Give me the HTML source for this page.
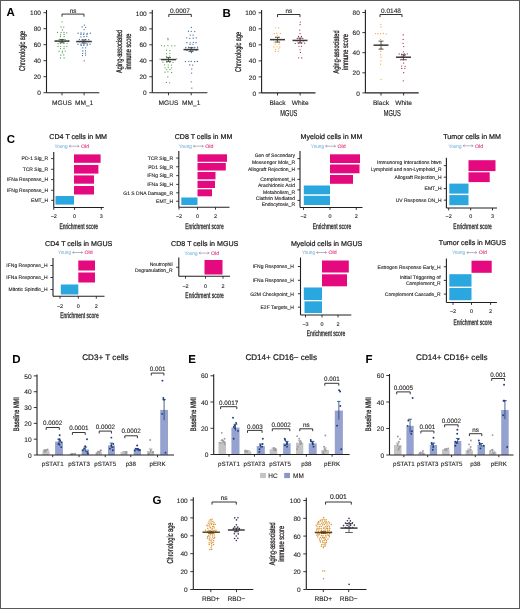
<!DOCTYPE html><html><head><meta charset="utf-8"><style>html,body{margin:0;padding:0;background:#fff;}svg{display:block;will-change:transform;}text{font-family:"Liberation Sans",sans-serif;text-rendering:geometricPrecision;}</style></head><body>
<svg width="520" height="609" viewBox="0 0 520 609">
<rect x="0" y="0" width="520" height="609" fill="#fff"/>
<text x="6.6" y="16.32" font-size="11.5" text-anchor="start" fill="#000" font-weight="bold">A</text>
<line x1="46.5" y1="9.9" x2="46.5" y2="92.7" stroke="#231f20" stroke-width="1.1"/>
<line x1="43.5" y1="92.7" x2="46.5" y2="92.7" stroke="#231f20" stroke-width="0.9"/>
<text x="40.9" y="95.33" font-size="6.5" text-anchor="end" fill="#231f20" stroke="#231f20" stroke-width="0.12">0</text>
<line x1="43.5" y1="76.7" x2="46.5" y2="76.7" stroke="#231f20" stroke-width="0.9"/>
<text x="40.9" y="79.33" font-size="6.5" text-anchor="end" fill="#231f20" stroke="#231f20" stroke-width="0.12">20</text>
<line x1="43.5" y1="60.7" x2="46.5" y2="60.7" stroke="#231f20" stroke-width="0.9"/>
<text x="40.9" y="63.33" font-size="6.5" text-anchor="end" fill="#231f20" stroke="#231f20" stroke-width="0.12">40</text>
<line x1="43.5" y1="44.7" x2="46.5" y2="44.7" stroke="#231f20" stroke-width="0.9"/>
<text x="40.9" y="47.33" font-size="6.5" text-anchor="end" fill="#231f20" stroke="#231f20" stroke-width="0.12">60</text>
<line x1="43.5" y1="28.7" x2="46.5" y2="28.7" stroke="#231f20" stroke-width="0.9"/>
<text x="40.9" y="31.33" font-size="6.5" text-anchor="end" fill="#231f20" stroke="#231f20" stroke-width="0.12">80</text>
<line x1="43.5" y1="12.7" x2="46.5" y2="12.7" stroke="#231f20" stroke-width="0.9"/>
<text x="40.9" y="15.33" font-size="6.5" text-anchor="end" fill="#231f20" stroke="#231f20" stroke-width="0.12">100</text>
<line x1="46.5" y1="92.7" x2="99.3" y2="92.7" stroke="#231f20" stroke-width="1.1"/>
<line x1="62" y1="92.7" x2="62" y2="95.3" stroke="#231f20" stroke-width="0.9"/>
<line x1="84.1" y1="92.7" x2="84.1" y2="95.3" stroke="#231f20" stroke-width="0.9"/>
<text x="62" y="104.66" font-size="6.6" text-anchor="middle" fill="#231f20" stroke="#231f20" stroke-width="0.12">MGUS</text>
<text x="84.1" y="104.66" font-size="6.6" text-anchor="middle" fill="#231f20" stroke="#231f20" stroke-width="0.12">MM_1</text>
<text x="22.3" y="54.01" font-size="8.4" text-anchor="middle" fill="#231f20" textLength="40" lengthAdjust="spacingAndGlyphs" stroke="#231f20" stroke-width="0.28" transform="rotate(-90 22.3 51)">Chronologic age</text>
<path d="M62 16.7V14.1H84V16.7" fill="none" stroke="#231f20" stroke-width="0.9"/>
<text x="73" y="12.56" font-size="6.3" text-anchor="middle" fill="#231f20" stroke="#231f20" stroke-width="0.12">ns</text>
<circle cx="62.04" cy="21.79" r="0.62" fill="#4f9e47"/>
<circle cx="60.98" cy="26.95" r="0.62" fill="#4f9e47"/>
<circle cx="63.8" cy="27.07" r="0.62" fill="#4f9e47"/>
<circle cx="62.41" cy="29.99" r="0.62" fill="#4f9e47"/>
<circle cx="57.52" cy="32.42" r="0.62" fill="#4f9e47"/>
<circle cx="61.04" cy="32.66" r="0.62" fill="#4f9e47"/>
<circle cx="63.98" cy="32.4" r="0.62" fill="#4f9e47"/>
<circle cx="66.76" cy="32.83" r="0.62" fill="#4f9e47"/>
<circle cx="60.61" cy="34.97" r="0.62" fill="#4f9e47"/>
<circle cx="64.08" cy="34.42" r="0.62" fill="#4f9e47"/>
<circle cx="60.47" cy="36.72" r="0.62" fill="#4f9e47"/>
<circle cx="64.11" cy="36.63" r="0.62" fill="#4f9e47"/>
<circle cx="59.1" cy="39.45" r="0.62" fill="#4f9e47"/>
<circle cx="61.97" cy="39.33" r="0.62" fill="#4f9e47"/>
<circle cx="65.26" cy="39.5" r="0.62" fill="#4f9e47"/>
<circle cx="56.11" cy="40.94" r="0.62" fill="#4f9e47"/>
<circle cx="59.1" cy="41.08" r="0.62" fill="#4f9e47"/>
<circle cx="62.15" cy="40.81" r="0.62" fill="#4f9e47"/>
<circle cx="65.54" cy="41.13" r="0.62" fill="#4f9e47"/>
<circle cx="68.4" cy="40.91" r="0.62" fill="#4f9e47"/>
<circle cx="58.14" cy="43.64" r="0.62" fill="#4f9e47"/>
<circle cx="60.53" cy="43.32" r="0.62" fill="#4f9e47"/>
<circle cx="63.96" cy="43.55" r="0.62" fill="#4f9e47"/>
<circle cx="67.11" cy="43.37" r="0.62" fill="#4f9e47"/>
<circle cx="58.03" cy="46.4" r="0.62" fill="#4f9e47"/>
<circle cx="60.66" cy="46.35" r="0.62" fill="#4f9e47"/>
<circle cx="64.07" cy="46.51" r="0.62" fill="#4f9e47"/>
<circle cx="66.8" cy="46.35" r="0.62" fill="#4f9e47"/>
<circle cx="60.47" cy="48.55" r="0.62" fill="#4f9e47"/>
<circle cx="64.01" cy="48.65" r="0.62" fill="#4f9e47"/>
<circle cx="59.07" cy="51.13" r="0.62" fill="#4f9e47"/>
<circle cx="62.44" cy="51.2" r="0.62" fill="#4f9e47"/>
<circle cx="65.21" cy="51.06" r="0.62" fill="#4f9e47"/>
<circle cx="62.31" cy="52.87" r="0.62" fill="#4f9e47"/>
<circle cx="60.81" cy="55.2" r="0.62" fill="#4f9e47"/>
<circle cx="63.79" cy="54.98" r="0.62" fill="#4f9e47"/>
<circle cx="60.48" cy="57.94" r="0.62" fill="#4f9e47"/>
<circle cx="64.14" cy="57.88" r="0.62" fill="#4f9e47"/>
<circle cx="84.32" cy="25.05" r="0.62" fill="#2b5a93"/>
<circle cx="82.19" cy="26.93" r="0.62" fill="#2b5a93"/>
<circle cx="85.73" cy="27.32" r="0.62" fill="#2b5a93"/>
<circle cx="84.12" cy="29.54" r="0.62" fill="#2b5a93"/>
<circle cx="78.07" cy="33.16" r="0.62" fill="#2b5a93"/>
<circle cx="81.06" cy="32.9" r="0.62" fill="#2b5a93"/>
<circle cx="83.95" cy="33.04" r="0.62" fill="#2b5a93"/>
<circle cx="87.16" cy="33.4" r="0.62" fill="#2b5a93"/>
<circle cx="90.31" cy="33.13" r="0.62" fill="#2b5a93"/>
<circle cx="80.96" cy="34.48" r="0.62" fill="#2b5a93"/>
<circle cx="83.68" cy="34.34" r="0.62" fill="#2b5a93"/>
<circle cx="86.98" cy="34.51" r="0.62" fill="#2b5a93"/>
<circle cx="80.92" cy="36.86" r="0.62" fill="#2b5a93"/>
<circle cx="84.02" cy="36.66" r="0.62" fill="#2b5a93"/>
<circle cx="86.82" cy="36.33" r="0.62" fill="#2b5a93"/>
<circle cx="79.38" cy="39.28" r="0.62" fill="#2b5a93"/>
<circle cx="82.51" cy="39.8" r="0.62" fill="#2b5a93"/>
<circle cx="85.62" cy="39.31" r="0.62" fill="#2b5a93"/>
<circle cx="88.78" cy="39.68" r="0.62" fill="#2b5a93"/>
<circle cx="76.66" cy="41.74" r="0.62" fill="#2b5a93"/>
<circle cx="79.68" cy="41.67" r="0.62" fill="#2b5a93"/>
<circle cx="82.4" cy="41.79" r="0.62" fill="#2b5a93"/>
<circle cx="85.82" cy="41.3" r="0.62" fill="#2b5a93"/>
<circle cx="88.68" cy="41.63" r="0.62" fill="#2b5a93"/>
<circle cx="91.47" cy="41.52" r="0.62" fill="#2b5a93"/>
<circle cx="77.99" cy="44.23" r="0.62" fill="#2b5a93"/>
<circle cx="81" cy="44.18" r="0.62" fill="#2b5a93"/>
<circle cx="83.9" cy="44.21" r="0.62" fill="#2b5a93"/>
<circle cx="87.28" cy="43.96" r="0.62" fill="#2b5a93"/>
<circle cx="90.05" cy="44.23" r="0.62" fill="#2b5a93"/>
<circle cx="81.16" cy="45.41" r="0.62" fill="#2b5a93"/>
<circle cx="83.81" cy="45.31" r="0.62" fill="#2b5a93"/>
<circle cx="87.14" cy="45.22" r="0.62" fill="#2b5a93"/>
<circle cx="82.79" cy="47.76" r="0.62" fill="#2b5a93"/>
<circle cx="85.79" cy="47.79" r="0.62" fill="#2b5a93"/>
<circle cx="82.82" cy="50.9" r="0.62" fill="#2b5a93"/>
<circle cx="85.5" cy="50.79" r="0.62" fill="#2b5a93"/>
<circle cx="82.61" cy="53.31" r="0.62" fill="#2b5a93"/>
<circle cx="85.37" cy="53.08" r="0.62" fill="#2b5a93"/>
<circle cx="82.51" cy="55.52" r="0.62" fill="#2b5a93"/>
<circle cx="85.59" cy="55.01" r="0.62" fill="#2b5a93"/>
<circle cx="84.22" cy="60.84" r="0.62" fill="#2b5a93"/>
<line x1="54.5" y1="41.1" x2="69.5" y2="41.1" stroke="#3a3a3a" stroke-width="1.5"/>
<line x1="62" y1="42.7" x2="62" y2="39.5" stroke="#3a3a3a" stroke-width="0.8"/>
<line x1="59.5" y1="42.7" x2="64.5" y2="42.7" stroke="#3a3a3a" stroke-width="0.8"/>
<line x1="59.5" y1="39.5" x2="64.5" y2="39.5" stroke="#3a3a3a" stroke-width="0.8"/>
<line x1="76.5" y1="41.5" x2="91.5" y2="41.5" stroke="#3a3a3a" stroke-width="1.5"/>
<line x1="84" y1="43.1" x2="84" y2="39.9" stroke="#3a3a3a" stroke-width="0.8"/>
<line x1="81.5" y1="43.1" x2="86.5" y2="43.1" stroke="#3a3a3a" stroke-width="0.8"/>
<line x1="81.5" y1="39.9" x2="86.5" y2="39.9" stroke="#3a3a3a" stroke-width="0.8"/>
<line x1="152.3" y1="10.1" x2="152.3" y2="92.7" stroke="#231f20" stroke-width="1.1"/>
<line x1="149.3" y1="92.7" x2="152.3" y2="92.7" stroke="#231f20" stroke-width="0.9"/>
<text x="146.7" y="95.33" font-size="6.5" text-anchor="end" fill="#231f20" stroke="#231f20" stroke-width="0.12">0</text>
<line x1="149.3" y1="76.74" x2="152.3" y2="76.74" stroke="#231f20" stroke-width="0.9"/>
<text x="146.7" y="79.37" font-size="6.5" text-anchor="end" fill="#231f20" stroke="#231f20" stroke-width="0.12">20</text>
<line x1="149.3" y1="60.78" x2="152.3" y2="60.78" stroke="#231f20" stroke-width="0.9"/>
<text x="146.7" y="63.41" font-size="6.5" text-anchor="end" fill="#231f20" stroke="#231f20" stroke-width="0.12">40</text>
<line x1="149.3" y1="44.82" x2="152.3" y2="44.82" stroke="#231f20" stroke-width="0.9"/>
<text x="146.7" y="47.45" font-size="6.5" text-anchor="end" fill="#231f20" stroke="#231f20" stroke-width="0.12">60</text>
<line x1="149.3" y1="28.86" x2="152.3" y2="28.86" stroke="#231f20" stroke-width="0.9"/>
<text x="146.7" y="31.49" font-size="6.5" text-anchor="end" fill="#231f20" stroke="#231f20" stroke-width="0.12">80</text>
<line x1="149.3" y1="12.9" x2="152.3" y2="12.9" stroke="#231f20" stroke-width="0.9"/>
<text x="146.7" y="15.53" font-size="6.5" text-anchor="end" fill="#231f20" stroke="#231f20" stroke-width="0.12">100</text>
<line x1="152.3" y1="92.7" x2="207.4" y2="92.7" stroke="#231f20" stroke-width="1.1"/>
<line x1="168.5" y1="92.7" x2="168.5" y2="95.3" stroke="#231f20" stroke-width="0.9"/>
<line x1="191.2" y1="92.7" x2="191.2" y2="95.3" stroke="#231f20" stroke-width="0.9"/>
<text x="168.5" y="104.66" font-size="6.6" text-anchor="middle" fill="#231f20" stroke="#231f20" stroke-width="0.12">MGUS</text>
<text x="191.2" y="104.66" font-size="6.6" text-anchor="middle" fill="#231f20" stroke="#231f20" stroke-width="0.12">MM_1</text>
<text x="118.6" y="54.44" font-size="8.2" text-anchor="middle" fill="#231f20" textLength="43" lengthAdjust="spacingAndGlyphs" stroke="#231f20" stroke-width="0.28" transform="rotate(-90 118.6 51.5)">Aging-associated</text>
<text x="127.6" y="54.44" font-size="8.2" text-anchor="middle" fill="#231f20" textLength="36" lengthAdjust="spacingAndGlyphs" stroke="#231f20" stroke-width="0.28" transform="rotate(-90 127.6 51.5)">immune score</text>
<path d="M168.8 17V14.4H191.3V17" fill="none" stroke="#231f20" stroke-width="0.9"/>
<text x="180.05" y="12.53" font-size="6.5" text-anchor="middle" fill="#231f20" stroke="#231f20" stroke-width="0.12">0.0007</text>
<circle cx="167.92" cy="38.46" r="0.62" fill="#4f9e47"/>
<circle cx="168.01" cy="39.7" r="0.62" fill="#4f9e47"/>
<circle cx="161.59" cy="45.52" r="0.62" fill="#4f9e47"/>
<circle cx="164.46" cy="45.98" r="0.62" fill="#4f9e47"/>
<circle cx="167.93" cy="45.62" r="0.62" fill="#4f9e47"/>
<circle cx="171.75" cy="45.76" r="0.62" fill="#4f9e47"/>
<circle cx="174.94" cy="45.76" r="0.62" fill="#4f9e47"/>
<circle cx="166.55" cy="50.2" r="0.62" fill="#4f9e47"/>
<circle cx="169.84" cy="50.63" r="0.62" fill="#4f9e47"/>
<circle cx="166.47" cy="53.74" r="0.62" fill="#4f9e47"/>
<circle cx="169.87" cy="53.34" r="0.62" fill="#4f9e47"/>
<circle cx="166.63" cy="56.37" r="0.62" fill="#4f9e47"/>
<circle cx="169.61" cy="56.03" r="0.62" fill="#4f9e47"/>
<circle cx="160.11" cy="59.17" r="0.62" fill="#4f9e47"/>
<circle cx="163.3" cy="59.41" r="0.62" fill="#4f9e47"/>
<circle cx="166.6" cy="59.44" r="0.62" fill="#4f9e47"/>
<circle cx="169.68" cy="59.36" r="0.62" fill="#4f9e47"/>
<circle cx="173.01" cy="59.45" r="0.62" fill="#4f9e47"/>
<circle cx="176.62" cy="58.94" r="0.62" fill="#4f9e47"/>
<circle cx="162.9" cy="62.21" r="0.62" fill="#4f9e47"/>
<circle cx="166.78" cy="62.34" r="0.62" fill="#4f9e47"/>
<circle cx="169.84" cy="62.26" r="0.62" fill="#4f9e47"/>
<circle cx="173.06" cy="62.31" r="0.62" fill="#4f9e47"/>
<circle cx="164.7" cy="64.82" r="0.62" fill="#4f9e47"/>
<circle cx="168.16" cy="65.01" r="0.62" fill="#4f9e47"/>
<circle cx="171.53" cy="65.03" r="0.62" fill="#4f9e47"/>
<circle cx="165.05" cy="67.78" r="0.62" fill="#4f9e47"/>
<circle cx="168.22" cy="67.28" r="0.62" fill="#4f9e47"/>
<circle cx="171.65" cy="67.76" r="0.62" fill="#4f9e47"/>
<circle cx="166.73" cy="69.6" r="0.62" fill="#4f9e47"/>
<circle cx="169.9" cy="69.38" r="0.62" fill="#4f9e47"/>
<circle cx="165.03" cy="72.16" r="0.62" fill="#4f9e47"/>
<circle cx="167.95" cy="71.85" r="0.62" fill="#4f9e47"/>
<circle cx="171.65" cy="72.41" r="0.62" fill="#4f9e47"/>
<circle cx="167.81" cy="76.92" r="0.62" fill="#4f9e47"/>
<circle cx="166.39" cy="82.44" r="0.62" fill="#4f9e47"/>
<circle cx="169.61" cy="82.81" r="0.62" fill="#4f9e47"/>
<circle cx="191.32" cy="27.27" r="0.62" fill="#2b5a93"/>
<circle cx="188.43" cy="31.21" r="0.62" fill="#2b5a93"/>
<circle cx="191.2" cy="31.35" r="0.62" fill="#2b5a93"/>
<circle cx="194.79" cy="31.59" r="0.62" fill="#2b5a93"/>
<circle cx="190.19" cy="35.08" r="0.62" fill="#2b5a93"/>
<circle cx="193.03" cy="35.11" r="0.62" fill="#2b5a93"/>
<circle cx="186.77" cy="37.8" r="0.62" fill="#2b5a93"/>
<circle cx="189.8" cy="38.29" r="0.62" fill="#2b5a93"/>
<circle cx="193.23" cy="38.22" r="0.62" fill="#2b5a93"/>
<circle cx="196.21" cy="37.85" r="0.62" fill="#2b5a93"/>
<circle cx="186.87" cy="42.66" r="0.62" fill="#2b5a93"/>
<circle cx="190.16" cy="42.8" r="0.62" fill="#2b5a93"/>
<circle cx="193.27" cy="42.34" r="0.62" fill="#2b5a93"/>
<circle cx="196.07" cy="42.69" r="0.62" fill="#2b5a93"/>
<circle cx="190" cy="44.31" r="0.62" fill="#2b5a93"/>
<circle cx="192.98" cy="44.25" r="0.62" fill="#2b5a93"/>
<circle cx="185.8" cy="47.43" r="0.62" fill="#2b5a93"/>
<circle cx="188.53" cy="47.09" r="0.62" fill="#2b5a93"/>
<circle cx="191.79" cy="47.26" r="0.62" fill="#2b5a93"/>
<circle cx="194.77" cy="47.42" r="0.62" fill="#2b5a93"/>
<circle cx="197.51" cy="47.16" r="0.62" fill="#2b5a93"/>
<circle cx="185.57" cy="49.09" r="0.62" fill="#2b5a93"/>
<circle cx="188.26" cy="49.01" r="0.62" fill="#2b5a93"/>
<circle cx="191.72" cy="48.86" r="0.62" fill="#2b5a93"/>
<circle cx="194.18" cy="49.21" r="0.62" fill="#2b5a93"/>
<circle cx="197.35" cy="49.15" r="0.62" fill="#2b5a93"/>
<circle cx="186.98" cy="50.31" r="0.62" fill="#2b5a93"/>
<circle cx="190.35" cy="50.22" r="0.62" fill="#2b5a93"/>
<circle cx="192.94" cy="50.23" r="0.62" fill="#2b5a93"/>
<circle cx="196.09" cy="50.27" r="0.62" fill="#2b5a93"/>
<circle cx="191.4" cy="52.55" r="0.62" fill="#2b5a93"/>
<circle cx="185.37" cy="61.61" r="0.62" fill="#2b5a93"/>
<circle cx="188.78" cy="61.34" r="0.62" fill="#2b5a93"/>
<circle cx="191.19" cy="61.42" r="0.62" fill="#2b5a93"/>
<circle cx="194.69" cy="61.65" r="0.62" fill="#2b5a93"/>
<circle cx="197.32" cy="61.48" r="0.62" fill="#2b5a93"/>
<circle cx="189.77" cy="64.91" r="0.62" fill="#2b5a93"/>
<circle cx="192.68" cy="65.05" r="0.62" fill="#2b5a93"/>
<circle cx="191.78" cy="69.03" r="0.62" fill="#2b5a93"/>
<circle cx="191.66" cy="73.03" r="0.62" fill="#2b5a93"/>
<circle cx="191.16" cy="81.8" r="0.62" fill="#2b5a93"/>
<circle cx="191.83" cy="88.08" r="0.62" fill="#2b5a93"/>
<line x1="161" y1="59.58" x2="176" y2="59.58" stroke="#3a3a3a" stroke-width="1.5"/>
<line x1="168.5" y1="61.58" x2="168.5" y2="57.59" stroke="#3a3a3a" stroke-width="0.8"/>
<line x1="166" y1="61.58" x2="171" y2="61.58" stroke="#3a3a3a" stroke-width="0.8"/>
<line x1="166" y1="57.59" x2="171" y2="57.59" stroke="#3a3a3a" stroke-width="0.8"/>
<line x1="183.5" y1="49.61" x2="198.5" y2="49.61" stroke="#3a3a3a" stroke-width="1.5"/>
<line x1="191" y1="51.6" x2="191" y2="47.61" stroke="#3a3a3a" stroke-width="0.8"/>
<line x1="188.5" y1="51.6" x2="193.5" y2="51.6" stroke="#3a3a3a" stroke-width="0.8"/>
<line x1="188.5" y1="47.61" x2="193.5" y2="47.61" stroke="#3a3a3a" stroke-width="0.8"/>
<text x="222.6" y="17.42" font-size="11.5" text-anchor="start" fill="#000" font-weight="bold">B</text>
<line x1="261.6" y1="10" x2="261.6" y2="92.9" stroke="#231f20" stroke-width="1.1"/>
<line x1="258.6" y1="92.9" x2="261.6" y2="92.9" stroke="#231f20" stroke-width="0.9"/>
<text x="256" y="95.53" font-size="6.5" text-anchor="end" fill="#231f20" stroke="#231f20" stroke-width="0.12">0</text>
<line x1="258.6" y1="76.88" x2="261.6" y2="76.88" stroke="#231f20" stroke-width="0.9"/>
<text x="256" y="79.51" font-size="6.5" text-anchor="end" fill="#231f20" stroke="#231f20" stroke-width="0.12">20</text>
<line x1="258.6" y1="60.86" x2="261.6" y2="60.86" stroke="#231f20" stroke-width="0.9"/>
<text x="256" y="63.49" font-size="6.5" text-anchor="end" fill="#231f20" stroke="#231f20" stroke-width="0.12">40</text>
<line x1="258.6" y1="44.84" x2="261.6" y2="44.84" stroke="#231f20" stroke-width="0.9"/>
<text x="256" y="47.47" font-size="6.5" text-anchor="end" fill="#231f20" stroke="#231f20" stroke-width="0.12">60</text>
<line x1="258.6" y1="28.82" x2="261.6" y2="28.82" stroke="#231f20" stroke-width="0.9"/>
<text x="256" y="31.45" font-size="6.5" text-anchor="end" fill="#231f20" stroke="#231f20" stroke-width="0.12">80</text>
<line x1="258.6" y1="12.8" x2="261.6" y2="12.8" stroke="#231f20" stroke-width="0.9"/>
<text x="256" y="15.43" font-size="6.5" text-anchor="end" fill="#231f20" stroke="#231f20" stroke-width="0.12">100</text>
<line x1="261.6" y1="92.9" x2="315.5" y2="92.9" stroke="#231f20" stroke-width="1.1"/>
<line x1="277.5" y1="92.9" x2="277.5" y2="95.5" stroke="#231f20" stroke-width="0.9"/>
<line x1="300.2" y1="92.9" x2="300.2" y2="95.5" stroke="#231f20" stroke-width="0.9"/>
<text x="277.5" y="104.86" font-size="6.6" text-anchor="middle" fill="#231f20" stroke="#231f20" stroke-width="0.12">Black</text>
<text x="300.2" y="104.86" font-size="6.6" text-anchor="middle" fill="#231f20" stroke="#231f20" stroke-width="0.12">White</text>
<text x="237.6" y="55.01" font-size="8.4" text-anchor="middle" fill="#231f20" textLength="40" lengthAdjust="spacingAndGlyphs" stroke="#231f20" stroke-width="0.28" transform="rotate(-90 237.6 52)">Chronologic age</text>
<path d="M277.5 17.1V14.5H300V17.1" fill="none" stroke="#231f20" stroke-width="0.9"/>
<text x="288.75" y="12.76" font-size="6.3" text-anchor="middle" fill="#231f20" stroke="#231f20" stroke-width="0.12">ns</text>
<text x="288.8" y="116.38" font-size="8.6" text-anchor="middle" fill="#231f20" textLength="17" lengthAdjust="spacingAndGlyphs" stroke="#231f20" stroke-width="0.2">MGUS</text>
<circle cx="275.59" cy="27.76" r="0.62" fill="#eea246"/>
<circle cx="278.71" cy="27.88" r="0.62" fill="#eea246"/>
<circle cx="274.17" cy="33.64" r="0.62" fill="#eea246"/>
<circle cx="276.67" cy="33.37" r="0.62" fill="#eea246"/>
<circle cx="280.31" cy="33.48" r="0.62" fill="#eea246"/>
<circle cx="277.28" cy="35" r="0.62" fill="#eea246"/>
<circle cx="275.48" cy="37.48" r="0.62" fill="#eea246"/>
<circle cx="278.53" cy="37.68" r="0.62" fill="#eea246"/>
<circle cx="273.66" cy="39.86" r="0.62" fill="#eea246"/>
<circle cx="276.85" cy="40.28" r="0.62" fill="#eea246"/>
<circle cx="280.19" cy="39.83" r="0.62" fill="#eea246"/>
<circle cx="274.21" cy="42.22" r="0.62" fill="#eea246"/>
<circle cx="277.08" cy="42.21" r="0.62" fill="#eea246"/>
<circle cx="279.65" cy="42.66" r="0.62" fill="#eea246"/>
<circle cx="275.3" cy="44.11" r="0.62" fill="#eea246"/>
<circle cx="278.84" cy="44.5" r="0.62" fill="#eea246"/>
<circle cx="273.85" cy="46.96" r="0.62" fill="#eea246"/>
<circle cx="277.03" cy="46.79" r="0.62" fill="#eea246"/>
<circle cx="279.79" cy="46.95" r="0.62" fill="#eea246"/>
<circle cx="275.63" cy="49.37" r="0.62" fill="#eea246"/>
<circle cx="278.78" cy="48.96" r="0.62" fill="#eea246"/>
<circle cx="275.4" cy="51.45" r="0.62" fill="#eea246"/>
<circle cx="278.25" cy="51.39" r="0.62" fill="#eea246"/>
<circle cx="300.31" cy="22.12" r="0.62" fill="#a61c42"/>
<circle cx="300.09" cy="24.67" r="0.62" fill="#a61c42"/>
<circle cx="299.75" cy="30.12" r="0.62" fill="#a61c42"/>
<circle cx="300.08" cy="33.54" r="0.62" fill="#a61c42"/>
<circle cx="298.51" cy="36.43" r="0.62" fill="#a61c42"/>
<circle cx="301.44" cy="36.45" r="0.62" fill="#a61c42"/>
<circle cx="297.26" cy="38.54" r="0.62" fill="#a61c42"/>
<circle cx="300.13" cy="38.7" r="0.62" fill="#a61c42"/>
<circle cx="302.89" cy="38.62" r="0.62" fill="#a61c42"/>
<circle cx="297.31" cy="40.85" r="0.62" fill="#a61c42"/>
<circle cx="300.31" cy="41.11" r="0.62" fill="#a61c42"/>
<circle cx="303.34" cy="40.9" r="0.62" fill="#a61c42"/>
<circle cx="295.32" cy="43.5" r="0.62" fill="#a61c42"/>
<circle cx="298.81" cy="43.29" r="0.62" fill="#a61c42"/>
<circle cx="301.32" cy="43.14" r="0.62" fill="#a61c42"/>
<circle cx="304.69" cy="43.19" r="0.62" fill="#a61c42"/>
<circle cx="298.92" cy="46.25" r="0.62" fill="#a61c42"/>
<circle cx="301.39" cy="46.29" r="0.62" fill="#a61c42"/>
<circle cx="300" cy="49.75" r="0.62" fill="#a61c42"/>
<circle cx="300.39" cy="52.38" r="0.62" fill="#a61c42"/>
<circle cx="298.7" cy="57.77" r="0.62" fill="#a61c42"/>
<circle cx="301.81" cy="57.94" r="0.62" fill="#a61c42"/>
<line x1="270" y1="39.63" x2="285" y2="39.63" stroke="#3a3a3a" stroke-width="1.5"/>
<line x1="277.5" y1="42.04" x2="277.5" y2="37.23" stroke="#3a3a3a" stroke-width="0.8"/>
<line x1="275" y1="42.04" x2="280" y2="42.04" stroke="#3a3a3a" stroke-width="0.8"/>
<line x1="275" y1="37.23" x2="280" y2="37.23" stroke="#3a3a3a" stroke-width="0.8"/>
<line x1="292.5" y1="40.43" x2="307.5" y2="40.43" stroke="#3a3a3a" stroke-width="1.5"/>
<line x1="300" y1="42.84" x2="300" y2="38.03" stroke="#3a3a3a" stroke-width="0.8"/>
<line x1="297.5" y1="42.84" x2="302.5" y2="42.84" stroke="#3a3a3a" stroke-width="0.8"/>
<line x1="297.5" y1="38.03" x2="302.5" y2="38.03" stroke="#3a3a3a" stroke-width="0.8"/>
<line x1="365.4" y1="9.7" x2="365.4" y2="92.9" stroke="#231f20" stroke-width="1.1"/>
<line x1="362.4" y1="92.9" x2="365.4" y2="92.9" stroke="#231f20" stroke-width="0.9"/>
<text x="359.8" y="95.53" font-size="6.5" text-anchor="end" fill="#231f20" stroke="#231f20" stroke-width="0.12">0</text>
<line x1="362.4" y1="72.8" x2="365.4" y2="72.8" stroke="#231f20" stroke-width="0.9"/>
<text x="359.8" y="75.43" font-size="6.5" text-anchor="end" fill="#231f20" stroke="#231f20" stroke-width="0.12">20</text>
<line x1="362.4" y1="52.7" x2="365.4" y2="52.7" stroke="#231f20" stroke-width="0.9"/>
<text x="359.8" y="55.33" font-size="6.5" text-anchor="end" fill="#231f20" stroke="#231f20" stroke-width="0.12">40</text>
<line x1="362.4" y1="32.6" x2="365.4" y2="32.6" stroke="#231f20" stroke-width="0.9"/>
<text x="359.8" y="35.23" font-size="6.5" text-anchor="end" fill="#231f20" stroke="#231f20" stroke-width="0.12">60</text>
<line x1="362.4" y1="12.5" x2="365.4" y2="12.5" stroke="#231f20" stroke-width="0.9"/>
<text x="359.8" y="15.13" font-size="6.5" text-anchor="end" fill="#231f20" stroke="#231f20" stroke-width="0.12">80</text>
<line x1="365.4" y1="92.9" x2="418.7" y2="92.9" stroke="#231f20" stroke-width="1.1"/>
<line x1="381" y1="92.9" x2="381" y2="95.5" stroke="#231f20" stroke-width="0.9"/>
<line x1="403.6" y1="92.9" x2="403.6" y2="95.5" stroke="#231f20" stroke-width="0.9"/>
<text x="381" y="104.86" font-size="6.6" text-anchor="middle" fill="#231f20" stroke="#231f20" stroke-width="0.12">Black</text>
<text x="403.6" y="104.86" font-size="6.6" text-anchor="middle" fill="#231f20" stroke="#231f20" stroke-width="0.12">White</text>
<text x="335.8" y="54.94" font-size="8.2" text-anchor="middle" fill="#231f20" textLength="43" lengthAdjust="spacingAndGlyphs" stroke="#231f20" stroke-width="0.28" transform="rotate(-90 335.8 52)">Aging-associated</text>
<text x="344.8" y="54.94" font-size="8.2" text-anchor="middle" fill="#231f20" textLength="36" lengthAdjust="spacingAndGlyphs" stroke="#231f20" stroke-width="0.28" transform="rotate(-90 344.8 52)">immune score</text>
<path d="M380 17.1V14.5H402V17.1" fill="none" stroke="#231f20" stroke-width="0.9"/>
<text x="391" y="12.63" font-size="6.5" text-anchor="middle" fill="#231f20" stroke="#231f20" stroke-width="0.12">0.0148</text>
<text x="392.2" y="116.38" font-size="8.6" text-anchor="middle" fill="#231f20" textLength="17" lengthAdjust="spacingAndGlyphs" stroke="#231f20" stroke-width="0.2">MGUS</text>
<circle cx="380.78" cy="24.35" r="0.62" fill="#eea246"/>
<circle cx="381.01" cy="26.92" r="0.62" fill="#eea246"/>
<circle cx="375.53" cy="33.62" r="0.62" fill="#eea246"/>
<circle cx="377.89" cy="33.71" r="0.62" fill="#eea246"/>
<circle cx="380.58" cy="33.67" r="0.62" fill="#eea246"/>
<circle cx="383.3" cy="33.46" r="0.62" fill="#eea246"/>
<circle cx="386.25" cy="33.9" r="0.62" fill="#eea246"/>
<circle cx="380.64" cy="39.47" r="0.62" fill="#eea246"/>
<circle cx="380.99" cy="41.71" r="0.62" fill="#eea246"/>
<circle cx="379.6" cy="45.1" r="0.62" fill="#eea246"/>
<circle cx="382.58" cy="44.89" r="0.62" fill="#eea246"/>
<circle cx="379.8" cy="48.55" r="0.62" fill="#eea246"/>
<circle cx="382" cy="48.45" r="0.62" fill="#eea246"/>
<circle cx="380.77" cy="51.48" r="0.62" fill="#eea246"/>
<circle cx="380.68" cy="54.66" r="0.62" fill="#eea246"/>
<circle cx="381" cy="57.15" r="0.62" fill="#eea246"/>
<circle cx="380.93" cy="60.78" r="0.62" fill="#eea246"/>
<circle cx="380.59" cy="64.18" r="0.62" fill="#eea246"/>
<circle cx="381.03" cy="79.29" r="0.62" fill="#eea246"/>
<circle cx="403.21" cy="34.99" r="0.62" fill="#a61c42"/>
<circle cx="403.14" cy="39.46" r="0.62" fill="#a61c42"/>
<circle cx="403.11" cy="43.3" r="0.62" fill="#a61c42"/>
<circle cx="403.75" cy="46.6" r="0.62" fill="#a61c42"/>
<circle cx="403.5" cy="51.87" r="0.62" fill="#a61c42"/>
<circle cx="399.17" cy="53.9" r="0.62" fill="#a61c42"/>
<circle cx="401.78" cy="54.1" r="0.62" fill="#a61c42"/>
<circle cx="404.51" cy="53.75" r="0.62" fill="#a61c42"/>
<circle cx="407.26" cy="53.77" r="0.62" fill="#a61c42"/>
<circle cx="401.94" cy="56.16" r="0.62" fill="#a61c42"/>
<circle cx="404.72" cy="55.68" r="0.62" fill="#a61c42"/>
<circle cx="401.83" cy="57.72" r="0.62" fill="#a61c42"/>
<circle cx="404.49" cy="57.5" r="0.62" fill="#a61c42"/>
<circle cx="400.51" cy="59.83" r="0.62" fill="#a61c42"/>
<circle cx="403.29" cy="59.85" r="0.62" fill="#a61c42"/>
<circle cx="406.2" cy="59.82" r="0.62" fill="#a61c42"/>
<circle cx="403.68" cy="63.1" r="0.62" fill="#a61c42"/>
<circle cx="401.75" cy="66.01" r="0.62" fill="#a61c42"/>
<circle cx="405.11" cy="66.26" r="0.62" fill="#a61c42"/>
<circle cx="401.79" cy="68.44" r="0.62" fill="#a61c42"/>
<circle cx="404.86" cy="68.31" r="0.62" fill="#a61c42"/>
<circle cx="403.67" cy="72.67" r="0.62" fill="#a61c42"/>
<circle cx="403.3" cy="80.87" r="0.62" fill="#a61c42"/>
<line x1="373.5" y1="45.16" x2="388.5" y2="45.16" stroke="#3a3a3a" stroke-width="1.5"/>
<line x1="381" y1="49.18" x2="381" y2="41.14" stroke="#3a3a3a" stroke-width="0.8"/>
<line x1="378.5" y1="49.18" x2="383.5" y2="49.18" stroke="#3a3a3a" stroke-width="0.8"/>
<line x1="378.5" y1="41.14" x2="383.5" y2="41.14" stroke="#3a3a3a" stroke-width="0.8"/>
<line x1="396" y1="57.22" x2="411" y2="57.22" stroke="#3a3a3a" stroke-width="1.5"/>
<line x1="403.5" y1="59.73" x2="403.5" y2="54.71" stroke="#3a3a3a" stroke-width="0.8"/>
<line x1="401" y1="59.73" x2="406" y2="59.73" stroke="#3a3a3a" stroke-width="0.8"/>
<line x1="401" y1="54.71" x2="406" y2="54.71" stroke="#3a3a3a" stroke-width="0.8"/>
<text x="6.7" y="142.52" font-size="11.5" text-anchor="start" fill="#000" font-weight="bold">C</text>
<text x="78.2" y="138.74" font-size="7.1" text-anchor="middle" fill="#141414" stroke="#141414" stroke-width="0.2">CD4 T cells in MM</text>
<text x="54.5" y="147.99" font-size="5" text-anchor="start" fill="#86bde3" textLength="13" lengthAdjust="spacingAndGlyphs" stroke="#86bde3" stroke-width="0.12">Young</text>
<path d="M69.1 146.2H79.1 M69.1 146.2l1.5 -1.1 M69.1 146.2l1.5 1.1 M79.1 146.2l-1.5 -1.1 M79.1 146.2l-1.5 1.1" fill="none" stroke="#8a8296" stroke-width="0.6"/>
<text x="81" y="147.99" font-size="5" text-anchor="start" fill="#df3f86" textLength="8.1" lengthAdjust="spacingAndGlyphs" stroke="#df3f86" stroke-width="0.12">Old</text>
<rect x="74" y="154.4" width="26.6" height="8.4" fill="#e5097f"/>
<line x1="51.15" y1="158.6" x2="53.75" y2="158.6" stroke="#231f20" stroke-width="0.9"/>
<text x="48" y="160.39" font-size="5" text-anchor="end" fill="#231f20" stroke="#231f20" stroke-width="0.12">PD-1 Sig_R</text>
<rect x="74" y="165" width="24.4" height="8.6" fill="#e5097f"/>
<line x1="51.15" y1="169.3" x2="53.75" y2="169.3" stroke="#231f20" stroke-width="0.9"/>
<text x="48" y="171.09" font-size="5" text-anchor="end" fill="#231f20" stroke="#231f20" stroke-width="0.12">TCR Sig_R</text>
<rect x="74" y="175.4" width="20" height="8.3" fill="#e5097f"/>
<line x1="51.15" y1="179.55" x2="53.75" y2="179.55" stroke="#231f20" stroke-width="0.9"/>
<text x="48" y="181.34" font-size="5" text-anchor="end" fill="#231f20" stroke="#231f20" stroke-width="0.12">IFNa Response_H</text>
<rect x="74" y="186" width="20" height="8.5" fill="#e5097f"/>
<line x1="51.15" y1="190.25" x2="53.75" y2="190.25" stroke="#231f20" stroke-width="0.9"/>
<text x="48" y="192.04" font-size="5" text-anchor="end" fill="#231f20" stroke="#231f20" stroke-width="0.12">IFNg Response_H</text>
<rect x="55.5" y="196" width="18.5" height="8.6" fill="#2ba7e0"/>
<line x1="51.15" y1="200.3" x2="53.75" y2="200.3" stroke="#231f20" stroke-width="0.9"/>
<text x="48" y="202.09" font-size="5" text-anchor="end" fill="#231f20" stroke="#231f20" stroke-width="0.12">EMT_H</text>
<line x1="53.75" y1="152" x2="53.75" y2="207.5" stroke="#231f20" stroke-width="1.1"/>
<line x1="53.75" y1="207.5" x2="103.75" y2="207.5" stroke="#231f20" stroke-width="1.1"/>
<line x1="53.75" y1="207.5" x2="53.75" y2="209.9" stroke="#231f20" stroke-width="0.9"/>
<text x="53.75" y="218.13" font-size="5.4" text-anchor="middle" fill="#231f20" stroke="#231f20" stroke-width="0.12">−2</text>
<line x1="74.6" y1="207.5" x2="74.6" y2="209.9" stroke="#231f20" stroke-width="0.9"/>
<text x="74.6" y="218.13" font-size="5.4" text-anchor="middle" fill="#231f20" stroke="#231f20" stroke-width="0.12">0</text>
<line x1="101.3" y1="207.5" x2="101.3" y2="209.9" stroke="#231f20" stroke-width="0.9"/>
<text x="101.3" y="218.13" font-size="5.4" text-anchor="middle" fill="#231f20" stroke="#231f20" stroke-width="0.12">3</text>
<text x="78.8" y="229.16" font-size="8" text-anchor="middle" fill="#231f20" textLength="38.5" lengthAdjust="spacingAndGlyphs" stroke="#231f20" stroke-width="0.28">Enrichment score</text>
<text x="203.5" y="138.74" font-size="7.1" text-anchor="middle" fill="#141414" stroke="#141414" stroke-width="0.2">CD8 T cells in MM</text>
<text x="178.8" y="147.99" font-size="5" text-anchor="start" fill="#86bde3" textLength="13" lengthAdjust="spacingAndGlyphs" stroke="#86bde3" stroke-width="0.12">Young</text>
<path d="M193.4 146.2H203.4 M193.4 146.2l1.5 -1.1 M193.4 146.2l1.5 1.1 M203.4 146.2l-1.5 -1.1 M203.4 146.2l-1.5 1.1" fill="none" stroke="#8a8296" stroke-width="0.6"/>
<text x="205.3" y="147.99" font-size="5" text-anchor="start" fill="#df3f86" textLength="8.1" lengthAdjust="spacingAndGlyphs" stroke="#df3f86" stroke-width="0.12">Old</text>
<rect x="197.5" y="154.3" width="29.5" height="7.5" fill="#e5097f"/>
<line x1="176.2" y1="158.05" x2="178.8" y2="158.05" stroke="#231f20" stroke-width="0.9"/>
<text x="173" y="159.84" font-size="5" text-anchor="end" fill="#231f20" stroke="#231f20" stroke-width="0.12">TCR Sig_R</text>
<rect x="197.5" y="163" width="28.3" height="7.5" fill="#e5097f"/>
<line x1="176.2" y1="166.75" x2="178.8" y2="166.75" stroke="#231f20" stroke-width="0.9"/>
<text x="173" y="168.54" font-size="5" text-anchor="end" fill="#231f20" stroke="#231f20" stroke-width="0.12">PD1 Sig_R</text>
<rect x="197.5" y="172" width="18" height="7.3" fill="#e5097f"/>
<line x1="176.2" y1="175.65" x2="178.8" y2="175.65" stroke="#231f20" stroke-width="0.9"/>
<text x="173" y="177.44" font-size="5" text-anchor="end" fill="#231f20" stroke="#231f20" stroke-width="0.12">IFNg Sig_R</text>
<rect x="197.5" y="180.8" width="17.5" height="7.2" fill="#e5097f"/>
<line x1="176.2" y1="184.4" x2="178.8" y2="184.4" stroke="#231f20" stroke-width="0.9"/>
<text x="173" y="186.19" font-size="5" text-anchor="end" fill="#231f20" stroke="#231f20" stroke-width="0.12">IFNa Sig_H</text>
<rect x="197.5" y="189.3" width="14.5" height="7" fill="#e5097f"/>
<line x1="176.2" y1="192.8" x2="178.8" y2="192.8" stroke="#231f20" stroke-width="0.9"/>
<text x="173" y="194.59" font-size="5" text-anchor="end" fill="#231f20" stroke="#231f20" stroke-width="0.12">G1 S DNA Damage_R</text>
<rect x="181.3" y="197.5" width="16.2" height="7.5" fill="#2ba7e0"/>
<line x1="176.2" y1="201.25" x2="178.8" y2="201.25" stroke="#231f20" stroke-width="0.9"/>
<text x="173" y="203.04" font-size="5" text-anchor="end" fill="#231f20" stroke="#231f20" stroke-width="0.12">EMT_H</text>
<line x1="178.8" y1="151" x2="178.8" y2="207.2" stroke="#231f20" stroke-width="1.1"/>
<line x1="178.8" y1="207.2" x2="229.5" y2="207.2" stroke="#231f20" stroke-width="1.1"/>
<line x1="179" y1="207.2" x2="179" y2="209.6" stroke="#231f20" stroke-width="0.9"/>
<text x="179" y="217.53" font-size="5.4" text-anchor="middle" fill="#231f20" stroke="#231f20" stroke-width="0.12">−2</text>
<line x1="197.5" y1="207.2" x2="197.5" y2="209.6" stroke="#231f20" stroke-width="0.9"/>
<text x="197.5" y="217.53" font-size="5.4" text-anchor="middle" fill="#231f20" stroke="#231f20" stroke-width="0.12">0</text>
<line x1="215.5" y1="207.2" x2="215.5" y2="209.6" stroke="#231f20" stroke-width="0.9"/>
<text x="215.5" y="217.53" font-size="5.4" text-anchor="middle" fill="#231f20" stroke="#231f20" stroke-width="0.12">2</text>
<text x="204.4" y="229.16" font-size="8" text-anchor="middle" fill="#231f20" textLength="38.5" lengthAdjust="spacingAndGlyphs" stroke="#231f20" stroke-width="0.28">Enrichment score</text>
<text x="331.5" y="138.74" font-size="7.1" text-anchor="middle" fill="#141414" stroke="#141414" stroke-width="0.2">Myeloid cells in MM</text>
<text x="311" y="147.99" font-size="5" text-anchor="start" fill="#86bde3" textLength="13" lengthAdjust="spacingAndGlyphs" stroke="#86bde3" stroke-width="0.12">Young</text>
<path d="M325.6 146.2H335.6 M325.6 146.2l1.5 -1.1 M325.6 146.2l1.5 1.1 M335.6 146.2l-1.5 -1.1 M335.6 146.2l-1.5 1.1" fill="none" stroke="#8a8296" stroke-width="0.6"/>
<text x="337.5" y="147.99" font-size="5" text-anchor="start" fill="#df3f86" textLength="8.1" lengthAdjust="spacingAndGlyphs" stroke="#df3f86" stroke-width="0.12">Old</text>
<rect x="330" y="154.3" width="30" height="8.7" fill="#e5097f"/>
<line x1="297.4" y1="158.65" x2="300" y2="158.65" stroke="#231f20" stroke-width="0.9"/>
<text x="295" y="157.29" font-size="5" text-anchor="end" fill="#231f20" stroke="#231f20" stroke-width="0.12">Gen of Secondary</text>
<text x="295" y="163.59" font-size="5" text-anchor="end" fill="#231f20" stroke="#231f20" stroke-width="0.12">Messenger Mols_R</text>
<rect x="330" y="164.5" width="29.5" height="8.8" fill="#e5097f"/>
<line x1="297.4" y1="168.9" x2="300" y2="168.9" stroke="#231f20" stroke-width="0.9"/>
<text x="295" y="170.69" font-size="5" text-anchor="end" fill="#231f20" stroke="#231f20" stroke-width="0.12">Allograft Rejection_H</text>
<rect x="330" y="175" width="23" height="8.8" fill="#e5097f"/>
<line x1="297.4" y1="179.4" x2="300" y2="179.4" stroke="#231f20" stroke-width="0.9"/>
<text x="295" y="181.19" font-size="5" text-anchor="end" fill="#231f20" stroke="#231f20" stroke-width="0.12">Complement_H</text>
<rect x="303.8" y="185.5" width="26.2" height="8.8" fill="#2ba7e0"/>
<line x1="297.4" y1="189.9" x2="300" y2="189.9" stroke="#231f20" stroke-width="0.9"/>
<text x="295" y="187.29" font-size="5" text-anchor="end" fill="#231f20" stroke="#231f20" stroke-width="0.12">Arachidonic Acid</text>
<text x="295" y="193.59" font-size="5" text-anchor="end" fill="#231f20" stroke="#231f20" stroke-width="0.12">Metabolism_R</text>
<rect x="303.8" y="195.8" width="26.2" height="9.2" fill="#2ba7e0"/>
<line x1="297.4" y1="200.4" x2="300" y2="200.4" stroke="#231f20" stroke-width="0.9"/>
<text x="295" y="199.69" font-size="5" text-anchor="end" fill="#231f20" stroke="#231f20" stroke-width="0.12">Clathrin Mediated</text>
<text x="295" y="206.19" font-size="5" text-anchor="end" fill="#231f20" stroke="#231f20" stroke-width="0.12">Endocytosis_R</text>
<line x1="300" y1="151" x2="300" y2="207.5" stroke="#231f20" stroke-width="1.1"/>
<line x1="300" y1="207.5" x2="362.5" y2="207.5" stroke="#231f20" stroke-width="1.1"/>
<line x1="303.5" y1="207.5" x2="303.5" y2="209.9" stroke="#231f20" stroke-width="0.9"/>
<text x="303.5" y="217.93" font-size="5.4" text-anchor="middle" fill="#231f20" stroke="#231f20" stroke-width="0.12">−2</text>
<line x1="330" y1="207.5" x2="330" y2="209.9" stroke="#231f20" stroke-width="0.9"/>
<text x="330" y="217.93" font-size="5.4" text-anchor="middle" fill="#231f20" stroke="#231f20" stroke-width="0.12">0</text>
<line x1="356.3" y1="207.5" x2="356.3" y2="209.9" stroke="#231f20" stroke-width="0.9"/>
<text x="356.3" y="217.93" font-size="5.4" text-anchor="middle" fill="#231f20" stroke="#231f20" stroke-width="0.12">2</text>
<text x="331.9" y="229.16" font-size="8" text-anchor="middle" fill="#231f20" textLength="38.5" lengthAdjust="spacingAndGlyphs" stroke="#231f20" stroke-width="0.28">Enrichment score</text>
<text x="472.1" y="139.04" font-size="7.1" text-anchor="middle" fill="#141414" stroke="#141414" stroke-width="0.2">Tumor cells in MM</text>
<text x="448.5" y="147.59" font-size="5" text-anchor="start" fill="#86bde3" textLength="13" lengthAdjust="spacingAndGlyphs" stroke="#86bde3" stroke-width="0.12">Young</text>
<path d="M463.1 145.8H473.1 M463.1 145.8l1.5 -1.1 M463.1 145.8l1.5 1.1 M473.1 145.8l-1.5 -1.1 M473.1 145.8l-1.5 1.1" fill="none" stroke="#8a8296" stroke-width="0.6"/>
<text x="475" y="147.59" font-size="5" text-anchor="start" fill="#df3f86" textLength="8.1" lengthAdjust="spacingAndGlyphs" stroke="#df3f86" stroke-width="0.12">Old</text>
<rect x="468.5" y="160.2" width="27" height="10.9" fill="#e5097f"/>
<line x1="443.8" y1="165.65" x2="446.4" y2="165.65" stroke="#231f20" stroke-width="0.9"/>
<text x="441.5" y="164.29" font-size="5" text-anchor="end" fill="#231f20" stroke="#231f20" stroke-width="0.12">Immunoreg Interactions btwn</text>
<text x="441.5" y="170.59" font-size="5" text-anchor="end" fill="#231f20" stroke="#231f20" stroke-width="0.12">Lymphoid and non-Lymphoid_R</text>
<rect x="468.5" y="172.3" width="21.2" height="9.8" fill="#e5097f"/>
<line x1="443.8" y1="177.2" x2="446.4" y2="177.2" stroke="#231f20" stroke-width="0.9"/>
<text x="441.5" y="178.99" font-size="5" text-anchor="end" fill="#231f20" stroke="#231f20" stroke-width="0.12">Allograft Rejection_H</text>
<rect x="449.3" y="183.6" width="19.2" height="10" fill="#2ba7e0"/>
<line x1="443.8" y1="188.6" x2="446.4" y2="188.6" stroke="#231f20" stroke-width="0.9"/>
<text x="441.5" y="190.39" font-size="5" text-anchor="end" fill="#231f20" stroke="#231f20" stroke-width="0.12">EMT_H</text>
<rect x="449.3" y="195.1" width="19.2" height="10.1" fill="#2ba7e0"/>
<line x1="443.8" y1="200.15" x2="446.4" y2="200.15" stroke="#231f20" stroke-width="0.9"/>
<text x="441.5" y="201.94" font-size="5" text-anchor="end" fill="#231f20" stroke="#231f20" stroke-width="0.12">UV Response DN_H</text>
<line x1="446.4" y1="157.8" x2="446.4" y2="208" stroke="#231f20" stroke-width="1.1"/>
<line x1="446.4" y1="208" x2="497" y2="208" stroke="#231f20" stroke-width="1.1"/>
<line x1="448.7" y1="208" x2="448.7" y2="210.4" stroke="#231f20" stroke-width="0.9"/>
<text x="448.7" y="218.43" font-size="5.4" text-anchor="middle" fill="#231f20" stroke="#231f20" stroke-width="0.12">−2</text>
<line x1="470.7" y1="208" x2="470.7" y2="210.4" stroke="#231f20" stroke-width="0.9"/>
<text x="470.7" y="218.43" font-size="5.4" text-anchor="middle" fill="#231f20" stroke="#231f20" stroke-width="0.12">0</text>
<line x1="492.5" y1="208" x2="492.5" y2="210.4" stroke="#231f20" stroke-width="0.9"/>
<text x="492.5" y="218.43" font-size="5.4" text-anchor="middle" fill="#231f20" stroke="#231f20" stroke-width="0.12">3</text>
<text x="472.6" y="228.66" font-size="8" text-anchor="middle" fill="#231f20" textLength="38.5" lengthAdjust="spacingAndGlyphs" stroke="#231f20" stroke-width="0.28">Enrichment score</text>
<text x="78.7" y="245.54" font-size="7.1" text-anchor="middle" fill="#141414" stroke="#141414" stroke-width="0.2">CD4 T cells in MGUS</text>
<text x="58" y="254.29" font-size="5" text-anchor="start" fill="#86bde3" textLength="13" lengthAdjust="spacingAndGlyphs" stroke="#86bde3" stroke-width="0.12">Young</text>
<path d="M72.6 252.5H82.6 M72.6 252.5l1.5 -1.1 M72.6 252.5l1.5 1.1 M82.6 252.5l-1.5 -1.1 M82.6 252.5l-1.5 1.1" fill="none" stroke="#8a8296" stroke-width="0.6"/>
<text x="84.5" y="254.29" font-size="5" text-anchor="start" fill="#df3f86" textLength="8.1" lengthAdjust="spacingAndGlyphs" stroke="#df3f86" stroke-width="0.12">Old</text>
<rect x="78.3" y="260.5" width="16.7" height="10" fill="#e5097f"/>
<line x1="50.4" y1="265.5" x2="53" y2="265.5" stroke="#231f20" stroke-width="0.9"/>
<text x="47.5" y="267.29" font-size="5" text-anchor="end" fill="#231f20" stroke="#231f20" stroke-width="0.12">IFNg Response_H</text>
<rect x="78.3" y="272.5" width="16.7" height="10" fill="#e5097f"/>
<line x1="50.4" y1="277.5" x2="53" y2="277.5" stroke="#231f20" stroke-width="0.9"/>
<text x="47.5" y="279.29" font-size="5" text-anchor="end" fill="#231f20" stroke="#231f20" stroke-width="0.12">IFNa Response_H</text>
<rect x="60.8" y="284.5" width="17.5" height="10" fill="#2ba7e0"/>
<line x1="50.4" y1="289.5" x2="53" y2="289.5" stroke="#231f20" stroke-width="0.9"/>
<text x="47.5" y="291.29" font-size="5" text-anchor="end" fill="#231f20" stroke="#231f20" stroke-width="0.12">Mitotic Spindle_H</text>
<line x1="53" y1="258" x2="53" y2="296.3" stroke="#231f20" stroke-width="1.1"/>
<line x1="53" y1="296.3" x2="104.5" y2="296.3" stroke="#231f20" stroke-width="1.1"/>
<line x1="60" y1="296.3" x2="60" y2="298.7" stroke="#231f20" stroke-width="0.9"/>
<text x="60" y="308.23" font-size="5.4" text-anchor="middle" fill="#231f20" stroke="#231f20" stroke-width="0.12">−2</text>
<line x1="78.3" y1="296.3" x2="78.3" y2="298.7" stroke="#231f20" stroke-width="0.9"/>
<text x="78.3" y="308.23" font-size="5.4" text-anchor="middle" fill="#231f20" stroke="#231f20" stroke-width="0.12">0</text>
<line x1="96.3" y1="296.3" x2="96.3" y2="298.7" stroke="#231f20" stroke-width="0.9"/>
<text x="96.3" y="308.23" font-size="5.4" text-anchor="middle" fill="#231f20" stroke="#231f20" stroke-width="0.12">2</text>
<text x="79.4" y="317.86" font-size="8" text-anchor="middle" fill="#231f20" textLength="38.5" lengthAdjust="spacingAndGlyphs" stroke="#231f20" stroke-width="0.28">Enrichment score</text>
<text x="204.7" y="245.54" font-size="7.1" text-anchor="middle" fill="#141414" stroke="#141414" stroke-width="0.2">CD8 T cells in MGUS</text>
<text x="184.5" y="254.89" font-size="5" text-anchor="start" fill="#86bde3" textLength="13" lengthAdjust="spacingAndGlyphs" stroke="#86bde3" stroke-width="0.12">Young</text>
<path d="M199.1 253.1H209.1 M199.1 253.1l1.5 -1.1 M199.1 253.1l1.5 1.1 M209.1 253.1l-1.5 -1.1 M209.1 253.1l-1.5 1.1" fill="none" stroke="#8a8296" stroke-width="0.6"/>
<text x="211" y="254.89" font-size="5" text-anchor="start" fill="#df3f86" textLength="8.1" lengthAdjust="spacingAndGlyphs" stroke="#df3f86" stroke-width="0.12">Old</text>
<rect x="204.5" y="260" width="18" height="14.5" fill="#e5097f"/>
<line x1="176.2" y1="267.25" x2="178.8" y2="267.25" stroke="#231f20" stroke-width="0.9"/>
<text x="172.5" y="265.89" font-size="5" text-anchor="end" fill="#231f20" stroke="#231f20" stroke-width="0.12">Neutrophil</text>
<text x="172.5" y="272.19" font-size="5" text-anchor="end" fill="#231f20" stroke="#231f20" stroke-width="0.12">Degranulation_R</text>
<line x1="178.8" y1="257.5" x2="178.8" y2="276.3" stroke="#231f20" stroke-width="1.1"/>
<line x1="178.8" y1="276.3" x2="230" y2="276.3" stroke="#231f20" stroke-width="1.1"/>
<line x1="185.5" y1="276.3" x2="185.5" y2="278.7" stroke="#231f20" stroke-width="0.9"/>
<text x="185.5" y="287.73" font-size="5.4" text-anchor="middle" fill="#231f20" stroke="#231f20" stroke-width="0.12">−2</text>
<line x1="205.5" y1="276.3" x2="205.5" y2="278.7" stroke="#231f20" stroke-width="0.9"/>
<text x="205.5" y="287.73" font-size="5.4" text-anchor="middle" fill="#231f20" stroke="#231f20" stroke-width="0.12">0</text>
<line x1="223" y1="276.3" x2="223" y2="278.7" stroke="#231f20" stroke-width="0.9"/>
<text x="223" y="287.73" font-size="5.4" text-anchor="middle" fill="#231f20" stroke="#231f20" stroke-width="0.12">2</text>
<text x="204.6" y="298.16" font-size="8" text-anchor="middle" fill="#231f20" textLength="38.5" lengthAdjust="spacingAndGlyphs" stroke="#231f20" stroke-width="0.28">Enrichment score</text>
<text x="326.6" y="245.54" font-size="7.1" text-anchor="middle" fill="#141414" stroke="#141414" stroke-width="0.2">Myeloid cells in MGUS</text>
<text x="302" y="254.29" font-size="5" text-anchor="start" fill="#86bde3" textLength="13" lengthAdjust="spacingAndGlyphs" stroke="#86bde3" stroke-width="0.12">Young</text>
<path d="M316.6 252.5H326.6 M316.6 252.5l1.5 -1.1 M316.6 252.5l1.5 1.1 M326.6 252.5l-1.5 -1.1 M326.6 252.5l-1.5 1.1" fill="none" stroke="#8a8296" stroke-width="0.6"/>
<text x="328.5" y="254.29" font-size="5" text-anchor="start" fill="#df3f86" textLength="8.1" lengthAdjust="spacingAndGlyphs" stroke="#df3f86" stroke-width="0.12">Old</text>
<rect x="322" y="260.5" width="26.8" height="12" fill="#e5097f"/>
<line x1="297.9" y1="266.5" x2="300.5" y2="266.5" stroke="#231f20" stroke-width="0.9"/>
<text x="293.8" y="268.29" font-size="5" text-anchor="end" fill="#231f20" stroke="#231f20" stroke-width="0.12">IFNg Response_H</text>
<rect x="322" y="274.3" width="25" height="12" fill="#e5097f"/>
<line x1="297.9" y1="280.3" x2="300.5" y2="280.3" stroke="#231f20" stroke-width="0.9"/>
<text x="293.8" y="282.09" font-size="5" text-anchor="end" fill="#231f20" stroke="#231f20" stroke-width="0.12">IFNa Response_H</text>
<rect x="303.8" y="287.5" width="18.2" height="12.5" fill="#2ba7e0"/>
<line x1="297.9" y1="293.75" x2="300.5" y2="293.75" stroke="#231f20" stroke-width="0.9"/>
<text x="293.8" y="295.54" font-size="5" text-anchor="end" fill="#231f20" stroke="#231f20" stroke-width="0.12">G2M Checkpoint_H</text>
<rect x="304.5" y="301.3" width="17.5" height="11.7" fill="#2ba7e0"/>
<line x1="297.9" y1="307.15" x2="300.5" y2="307.15" stroke="#231f20" stroke-width="0.9"/>
<text x="293.8" y="308.94" font-size="5" text-anchor="end" fill="#231f20" stroke="#231f20" stroke-width="0.12">E2F Targets_H</text>
<line x1="300.5" y1="257.5" x2="300.5" y2="315" stroke="#231f20" stroke-width="1.1"/>
<line x1="300.5" y1="315" x2="351.3" y2="315" stroke="#231f20" stroke-width="1.1"/>
<line x1="305.5" y1="315" x2="305.5" y2="317.4" stroke="#231f20" stroke-width="0.9"/>
<text x="305.5" y="325.73" font-size="5.4" text-anchor="middle" fill="#231f20" stroke="#231f20" stroke-width="0.12">−3</text>
<line x1="322" y1="315" x2="322" y2="317.4" stroke="#231f20" stroke-width="0.9"/>
<text x="322" y="325.73" font-size="5.4" text-anchor="middle" fill="#231f20" stroke="#231f20" stroke-width="0.12">0</text>
<line x1="338" y1="315" x2="338" y2="317.4" stroke="#231f20" stroke-width="0.9"/>
<text x="338" y="325.73" font-size="5.4" text-anchor="middle" fill="#231f20" stroke="#231f20" stroke-width="0.12">2</text>
<text x="326" y="335.86" font-size="8" text-anchor="middle" fill="#231f20" textLength="38.5" lengthAdjust="spacingAndGlyphs" stroke="#231f20" stroke-width="0.28">Enrichment score</text>
<text x="472.4" y="245.04" font-size="7.1" text-anchor="middle" fill="#141414" stroke="#141414" stroke-width="0.2">Tumor cells in MGUS</text>
<text x="452.2" y="254.39" font-size="5" text-anchor="start" fill="#86bde3" textLength="13" lengthAdjust="spacingAndGlyphs" stroke="#86bde3" stroke-width="0.12">Young</text>
<path d="M466.8 252.6H476.8 M466.8 252.6l1.5 -1.1 M466.8 252.6l1.5 1.1 M476.8 252.6l-1.5 -1.1 M476.8 252.6l-1.5 1.1" fill="none" stroke="#8a8296" stroke-width="0.6"/>
<text x="478.7" y="254.39" font-size="5" text-anchor="start" fill="#df3f86" textLength="8.1" lengthAdjust="spacingAndGlyphs" stroke="#df3f86" stroke-width="0.12">Old</text>
<rect x="471.5" y="260.7" width="20.2" height="12.1" fill="#e5097f"/>
<line x1="443.8" y1="266.75" x2="446.4" y2="266.75" stroke="#231f20" stroke-width="0.9"/>
<text x="440.7" y="268.54" font-size="5" text-anchor="end" fill="#231f20" stroke="#231f20" stroke-width="0.12">Estrogen Response Early_H</text>
<rect x="449.3" y="274.2" width="22.2" height="12.4" fill="#2ba7e0"/>
<line x1="443.8" y1="280.4" x2="446.4" y2="280.4" stroke="#231f20" stroke-width="0.9"/>
<text x="440.7" y="279.04" font-size="5" text-anchor="end" fill="#231f20" stroke="#231f20" stroke-width="0.12">Initial Triggering of</text>
<text x="440.7" y="285.34" font-size="5" text-anchor="end" fill="#231f20" stroke="#231f20" stroke-width="0.12">Complement_R</text>
<rect x="449.3" y="288" width="22.2" height="12.2" fill="#2ba7e0"/>
<line x1="443.8" y1="294.1" x2="446.4" y2="294.1" stroke="#231f20" stroke-width="0.9"/>
<text x="440.7" y="295.89" font-size="5" text-anchor="end" fill="#231f20" stroke="#231f20" stroke-width="0.12">Complement Cascade_R</text>
<line x1="446.4" y1="258.4" x2="446.4" y2="302.5" stroke="#231f20" stroke-width="1.1"/>
<line x1="446.4" y1="302.5" x2="496.9" y2="302.5" stroke="#231f20" stroke-width="1.1"/>
<line x1="453" y1="302.5" x2="453" y2="304.9" stroke="#231f20" stroke-width="0.9"/>
<text x="453" y="313.03" font-size="5.4" text-anchor="middle" fill="#231f20" stroke="#231f20" stroke-width="0.12">−2</text>
<line x1="471.5" y1="302.5" x2="471.5" y2="304.9" stroke="#231f20" stroke-width="0.9"/>
<text x="471.5" y="313.03" font-size="5.4" text-anchor="middle" fill="#231f20" stroke="#231f20" stroke-width="0.12">0</text>
<line x1="490.6" y1="302.5" x2="490.6" y2="304.9" stroke="#231f20" stroke-width="0.9"/>
<text x="490.6" y="313.03" font-size="5.4" text-anchor="middle" fill="#231f20" stroke="#231f20" stroke-width="0.12">2</text>
<text x="472.7" y="324.66" font-size="8" text-anchor="middle" fill="#231f20" textLength="38.5" lengthAdjust="spacingAndGlyphs" stroke="#231f20" stroke-width="0.28">Enrichment score</text>
<text x="12.2" y="362.72" font-size="11.5" text-anchor="start" fill="#000" font-weight="bold">D</text>
<text x="105.4" y="360.4" font-size="8.1" text-anchor="middle" fill="#141414" stroke="#141414" stroke-width="0.2">CD3+ T cells</text>
<text x="16.5" y="417.03" font-size="7.9" text-anchor="middle" fill="#231f20" textLength="34" lengthAdjust="spacingAndGlyphs" stroke="#231f20" stroke-width="0.3" transform="rotate(-90 16.5 414.2)">Baseline MMI</text>
<rect x="42.5" y="450.57" width="7" height="4.43" fill="#c3c3c6"/>
<circle cx="44.67" cy="451.84" r="0.95" fill="#9c9ca2"/>
<circle cx="46.01" cy="451.05" r="0.95" fill="#9c9ca2"/>
<circle cx="44.24" cy="450.25" r="0.95" fill="#9c9ca2"/>
<circle cx="47.67" cy="449.46" r="0.95" fill="#9c9ca2"/>
<circle cx="44.6" cy="451.52" r="0.95" fill="#9c9ca2"/>
<circle cx="46.27" cy="449.94" r="0.95" fill="#9c9ca2"/>
<line x1="46" y1="451.36" x2="46" y2="449.78" stroke="#9c9ca2" stroke-width="0.8"/>
<line x1="44.2" y1="449.78" x2="47.8" y2="449.78" stroke="#9c9ca2" stroke-width="0.8"/>
<rect x="55.1" y="441.55" width="7.8" height="13.45" fill="#95a2cf"/>
<circle cx="61.22" cy="447.09" r="0.95" fill="#1d3c78"/>
<circle cx="58.47" cy="443.93" r="0.95" fill="#1d3c78"/>
<circle cx="61.43" cy="442.34" r="0.95" fill="#1d3c78"/>
<circle cx="60.2" cy="440.76" r="0.95" fill="#1d3c78"/>
<circle cx="59.25" cy="439.18" r="0.95" fill="#1d3c78"/>
<circle cx="59.67" cy="435.23" r="0.95" fill="#1d3c78"/>
<circle cx="59.45" cy="444.72" r="0.95" fill="#1d3c78"/>
<line x1="59" y1="443.93" x2="59" y2="439.18" stroke="#1d3c78" stroke-width="0.8"/>
<line x1="57.2" y1="439.18" x2="60.8" y2="439.18" stroke="#1d3c78" stroke-width="0.8"/>
<path d="M46.2 429.9V427.5H59.3V429.9" fill="none" stroke="#231f20" stroke-width="0.9"/>
<text x="52.75" y="424.96" font-size="6.3" text-anchor="middle" fill="#231f20" stroke="#231f20" stroke-width="0.12">0.0002</text>
<text x="52.7" y="466.02" font-size="6.2" text-anchor="middle" fill="#231f20" stroke="#231f20" stroke-width="0.12">pSTAT1</text>
<rect x="69" y="453.89" width="7" height="1.11" fill="#c3c3c6"/>
<circle cx="71.77" cy="454.21" r="0.95" fill="#9c9ca2"/>
<circle cx="75.08" cy="453.73" r="0.95" fill="#9c9ca2"/>
<circle cx="72" cy="454.05" r="0.95" fill="#9c9ca2"/>
<line x1="72.5" y1="454.21" x2="72.5" y2="453.58" stroke="#9c9ca2" stroke-width="0.8"/>
<line x1="70.7" y1="453.58" x2="74.3" y2="453.58" stroke="#9c9ca2" stroke-width="0.8"/>
<rect x="81.6" y="449.46" width="7.5" height="5.54" fill="#95a2cf"/>
<circle cx="87.87" cy="453.42" r="0.95" fill="#1d3c78"/>
<circle cx="87.18" cy="451.84" r="0.95" fill="#1d3c78"/>
<circle cx="82.9" cy="450.25" r="0.95" fill="#1d3c78"/>
<circle cx="84.09" cy="448.67" r="0.95" fill="#1d3c78"/>
<circle cx="85.23" cy="446.3" r="0.95" fill="#1d3c78"/>
<circle cx="86.99" cy="439.18" r="0.95" fill="#1d3c78"/>
<line x1="85.35" y1="451.84" x2="85.35" y2="447.09" stroke="#1d3c78" stroke-width="0.8"/>
<line x1="83.55" y1="447.09" x2="87.15" y2="447.09" stroke="#1d3c78" stroke-width="0.8"/>
<path d="M72.4 434.9V432.5H85.2V434.9" fill="none" stroke="#231f20" stroke-width="0.9"/>
<text x="78.8" y="429.96" font-size="6.3" text-anchor="middle" fill="#231f20" stroke="#231f20" stroke-width="0.12">0.0001</text>
<text x="79.05" y="466.02" font-size="6.2" text-anchor="middle" fill="#231f20" stroke="#231f20" stroke-width="0.12">pSTAT3</text>
<rect x="95.5" y="452.15" width="6.5" height="2.85" fill="#c3c3c6"/>
<circle cx="97.07" cy="453.42" r="0.95" fill="#9c9ca2"/>
<circle cx="99.35" cy="452.63" r="0.95" fill="#9c9ca2"/>
<circle cx="98.06" cy="451.84" r="0.95" fill="#9c9ca2"/>
<circle cx="100.24" cy="451.05" r="0.95" fill="#9c9ca2"/>
<circle cx="100.97" cy="450.25" r="0.95" fill="#9c9ca2"/>
<line x1="98.75" y1="452.94" x2="98.75" y2="451.36" stroke="#9c9ca2" stroke-width="0.8"/>
<line x1="96.95" y1="451.36" x2="100.55" y2="451.36" stroke="#9c9ca2" stroke-width="0.8"/>
<rect x="108" y="445.51" width="7" height="9.49" fill="#95a2cf"/>
<circle cx="112.86" cy="450.25" r="0.95" fill="#1d3c78"/>
<circle cx="109.91" cy="448.67" r="0.95" fill="#1d3c78"/>
<circle cx="112.85" cy="447.09" r="0.95" fill="#1d3c78"/>
<circle cx="111.18" cy="445.51" r="0.95" fill="#1d3c78"/>
<circle cx="113.25" cy="443.93" r="0.95" fill="#1d3c78"/>
<circle cx="111.34" cy="437.6" r="0.95" fill="#1d3c78"/>
<line x1="111.5" y1="447.88" x2="111.5" y2="443.13" stroke="#1d3c78" stroke-width="0.8"/>
<line x1="109.7" y1="443.13" x2="113.3" y2="443.13" stroke="#1d3c78" stroke-width="0.8"/>
<path d="M99.2 433.5V431.1H111.4V433.5" fill="none" stroke="#231f20" stroke-width="0.9"/>
<text x="105.3" y="428.56" font-size="6.3" text-anchor="middle" fill="#231f20" stroke="#231f20" stroke-width="0.12">0.0002</text>
<text x="105.25" y="466.02" font-size="6.2" text-anchor="middle" fill="#231f20" stroke="#231f20" stroke-width="0.12">pSTAT5</text>
<rect x="120.6" y="452.15" width="7" height="2.85" fill="#c3c3c6"/>
<circle cx="126.21" cy="452.63" r="0.95" fill="#9c9ca2"/>
<circle cx="126.63" cy="451.84" r="0.95" fill="#9c9ca2"/>
<circle cx="125.79" cy="452.15" r="0.95" fill="#9c9ca2"/>
<circle cx="125.8" cy="453.1" r="0.95" fill="#9c9ca2"/>
<line x1="124.1" y1="452.63" x2="124.1" y2="451.68" stroke="#9c9ca2" stroke-width="0.8"/>
<line x1="122.3" y1="451.68" x2="125.9" y2="451.68" stroke="#9c9ca2" stroke-width="0.8"/>
<rect x="133.7" y="449.3" width="7.3" height="5.7" fill="#95a2cf"/>
<circle cx="139.01" cy="450.25" r="0.95" fill="#1d3c78"/>
<circle cx="137.83" cy="449.46" r="0.95" fill="#1d3c78"/>
<circle cx="135.66" cy="448.67" r="0.95" fill="#1d3c78"/>
<circle cx="139.88" cy="449.94" r="0.95" fill="#1d3c78"/>
<circle cx="137.16" cy="445.51" r="0.95" fill="#1d3c78"/>
<circle cx="134.83" cy="450.57" r="0.95" fill="#1d3c78"/>
<circle cx="137.01" cy="448.99" r="0.95" fill="#1d3c78"/>
<line x1="137.35" y1="450.1" x2="137.35" y2="448.51" stroke="#1d3c78" stroke-width="0.8"/>
<line x1="135.55" y1="448.51" x2="139.15" y2="448.51" stroke="#1d3c78" stroke-width="0.8"/>
<path d="M124.8 438.2V435.8H137.4V438.2" fill="none" stroke="#231f20" stroke-width="0.9"/>
<text x="131.1" y="433.26" font-size="6.3" text-anchor="middle" fill="#231f20" stroke="#231f20" stroke-width="0.12">0.0002</text>
<text x="130.8" y="466.02" font-size="6.2" text-anchor="middle" fill="#231f20" stroke="#231f20" stroke-width="0.12">p38</text>
<rect x="147.1" y="450.89" width="7" height="4.11" fill="#c3c3c6"/>
<circle cx="150.16" cy="439.97" r="0.95" fill="#9c9ca2"/>
<circle cx="149.04" cy="453.42" r="0.95" fill="#9c9ca2"/>
<circle cx="152.99" cy="451.84" r="0.95" fill="#9c9ca2"/>
<circle cx="148.58" cy="454.21" r="0.95" fill="#9c9ca2"/>
<circle cx="152.7" cy="452.63" r="0.95" fill="#9c9ca2"/>
<circle cx="150.86" cy="450.25" r="0.95" fill="#9c9ca2"/>
<line x1="150.6" y1="452.79" x2="150.6" y2="448.99" stroke="#9c9ca2" stroke-width="0.8"/>
<line x1="148.8" y1="448.99" x2="152.4" y2="448.99" stroke="#9c9ca2" stroke-width="0.8"/>
<rect x="160.2" y="409.91" width="7.8" height="45.09" fill="#95a2cf"/>
<circle cx="162.43" cy="380.65" r="0.95" fill="#1d3c78"/>
<circle cx="163.36" cy="398.05" r="0.95" fill="#1d3c78"/>
<circle cx="163.84" cy="399.63" r="0.95" fill="#1d3c78"/>
<circle cx="162.11" cy="413.87" r="0.95" fill="#1d3c78"/>
<circle cx="165.47" cy="452.63" r="0.95" fill="#1d3c78"/>
<line x1="164.1" y1="420.2" x2="164.1" y2="399.63" stroke="#1d3c78" stroke-width="0.8"/>
<line x1="162.3" y1="399.63" x2="165.9" y2="399.63" stroke="#1d3c78" stroke-width="0.8"/>
<path d="M151.3 375.5V373.1H163.9V375.5" fill="none" stroke="#231f20" stroke-width="0.9"/>
<text x="157.6" y="370.66" font-size="6.3" text-anchor="middle" fill="#231f20" stroke="#231f20" stroke-width="0.12">0.001</text>
<text x="157.55" y="466.02" font-size="6.2" text-anchor="middle" fill="#231f20" stroke="#231f20" stroke-width="0.12">pERK</text>
<line x1="37" y1="374.4" x2="37" y2="455" stroke="#231f20" stroke-width="1.1"/>
<line x1="33.8" y1="455" x2="37" y2="455" stroke="#231f20" stroke-width="0.9"/>
<text x="31.6" y="457.66" font-size="6.6" text-anchor="end" fill="#231f20" stroke="#231f20" stroke-width="0.12">0</text>
<line x1="33.8" y1="439.18" x2="37" y2="439.18" stroke="#231f20" stroke-width="0.9"/>
<text x="31.6" y="441.84" font-size="6.6" text-anchor="end" fill="#231f20" stroke="#231f20" stroke-width="0.12">10</text>
<line x1="33.8" y1="423.36" x2="37" y2="423.36" stroke="#231f20" stroke-width="0.9"/>
<text x="31.6" y="426.02" font-size="6.6" text-anchor="end" fill="#231f20" stroke="#231f20" stroke-width="0.12">20</text>
<line x1="33.8" y1="407.54" x2="37" y2="407.54" stroke="#231f20" stroke-width="0.9"/>
<text x="31.6" y="410.2" font-size="6.6" text-anchor="end" fill="#231f20" stroke="#231f20" stroke-width="0.12">30</text>
<line x1="33.8" y1="391.72" x2="37" y2="391.72" stroke="#231f20" stroke-width="0.9"/>
<text x="31.6" y="394.38" font-size="6.6" text-anchor="end" fill="#231f20" stroke="#231f20" stroke-width="0.12">40</text>
<line x1="33.8" y1="375.9" x2="37" y2="375.9" stroke="#231f20" stroke-width="0.9"/>
<text x="31.6" y="378.56" font-size="6.6" text-anchor="end" fill="#231f20" stroke="#231f20" stroke-width="0.12">50</text>
<line x1="37" y1="455" x2="174" y2="455" stroke="#231f20" stroke-width="1.1"/>
<line x1="52.7" y1="455" x2="52.7" y2="457.2" stroke="#231f20" stroke-width="0.9"/>
<line x1="79.05" y1="455" x2="79.05" y2="457.2" stroke="#231f20" stroke-width="0.9"/>
<line x1="105.25" y1="455" x2="105.25" y2="457.2" stroke="#231f20" stroke-width="0.9"/>
<line x1="130.8" y1="455" x2="130.8" y2="457.2" stroke="#231f20" stroke-width="0.9"/>
<line x1="157.55" y1="455" x2="157.55" y2="457.2" stroke="#231f20" stroke-width="0.9"/>
<text x="188.2" y="362.72" font-size="11.5" text-anchor="start" fill="#000" font-weight="bold">E</text>
<text x="281.2" y="360.4" font-size="8.1" text-anchor="middle" fill="#141414" stroke="#141414" stroke-width="0.2">CD14+ CD16− cells</text>
<text x="192.8" y="417.03" font-size="7.9" text-anchor="middle" fill="#231f20" textLength="34" lengthAdjust="spacingAndGlyphs" stroke="#231f20" stroke-width="0.3" transform="rotate(-90 192.8 414.2)">Baseline MMI</text>
<rect x="218.5" y="442.04" width="7.5" height="12.46" fill="#c3c3c6"/>
<circle cx="224.74" cy="444.01" r="0.95" fill="#9c9ca2"/>
<circle cx="219.93" cy="442.69" r="0.95" fill="#9c9ca2"/>
<circle cx="223.42" cy="441.38" r="0.95" fill="#9c9ca2"/>
<circle cx="222.17" cy="440.07" r="0.95" fill="#9c9ca2"/>
<circle cx="224.55" cy="438.76" r="0.95" fill="#9c9ca2"/>
<circle cx="221.77" cy="432.86" r="0.95" fill="#9c9ca2"/>
<circle cx="224.43" cy="442.04" r="0.95" fill="#9c9ca2"/>
<line x1="222.25" y1="443.61" x2="222.25" y2="440.47" stroke="#9c9ca2" stroke-width="0.8"/>
<line x1="220.45" y1="440.47" x2="224.05" y2="440.47" stroke="#9c9ca2" stroke-width="0.8"/>
<rect x="231.4" y="427.61" width="8.1" height="26.89" fill="#95a2cf"/>
<circle cx="233.68" cy="438.76" r="0.95" fill="#1d3c78"/>
<circle cx="238.02" cy="430.89" r="0.95" fill="#1d3c78"/>
<circle cx="235" cy="428.27" r="0.95" fill="#1d3c78"/>
<circle cx="233.8" cy="426.95" r="0.95" fill="#1d3c78"/>
<circle cx="234.65" cy="425.64" r="0.95" fill="#1d3c78"/>
<circle cx="236.13" cy="423.02" r="0.95" fill="#1d3c78"/>
<circle cx="233.03" cy="417.77" r="0.95" fill="#1d3c78"/>
<line x1="235.45" y1="430.89" x2="235.45" y2="424.33" stroke="#1d3c78" stroke-width="0.8"/>
<line x1="233.65" y1="424.33" x2="237.25" y2="424.33" stroke="#1d3c78" stroke-width="0.8"/>
<path d="M220.6 409.1V406.7H236.8V409.1" fill="none" stroke="#231f20" stroke-width="0.9"/>
<text x="228.7" y="404.76" font-size="6.3" text-anchor="middle" fill="#231f20" stroke="#231f20" stroke-width="0.12">0.0017</text>
<text x="229" y="466.02" font-size="6.2" text-anchor="middle" fill="#231f20" stroke="#231f20" stroke-width="0.12">pSTAT1</text>
<rect x="244" y="451.22" width="7.3" height="3.28" fill="#c3c3c6"/>
<circle cx="247.06" cy="451.88" r="0.95" fill="#9c9ca2"/>
<circle cx="245.11" cy="451.22" r="0.95" fill="#9c9ca2"/>
<circle cx="245.41" cy="450.56" r="0.95" fill="#9c9ca2"/>
<circle cx="245.94" cy="451.61" r="0.95" fill="#9c9ca2"/>
<line x1="247.65" y1="451.88" x2="247.65" y2="450.56" stroke="#9c9ca2" stroke-width="0.8"/>
<line x1="245.85" y1="450.56" x2="249.45" y2="450.56" stroke="#9c9ca2" stroke-width="0.8"/>
<rect x="256.7" y="445.97" width="8.1" height="8.53" fill="#95a2cf"/>
<circle cx="259.35" cy="451.88" r="0.95" fill="#1d3c78"/>
<circle cx="259.58" cy="449.25" r="0.95" fill="#1d3c78"/>
<circle cx="262.2" cy="446.63" r="0.95" fill="#1d3c78"/>
<circle cx="260.31" cy="445.32" r="0.95" fill="#1d3c78"/>
<circle cx="262.61" cy="444.01" r="0.95" fill="#1d3c78"/>
<circle cx="262.82" cy="438.76" r="0.95" fill="#1d3c78"/>
<line x1="260.75" y1="447.94" x2="260.75" y2="444.01" stroke="#1d3c78" stroke-width="0.8"/>
<line x1="258.95" y1="444.01" x2="262.55" y2="444.01" stroke="#1d3c78" stroke-width="0.8"/>
<path d="M247.5 432.8V430.4H262.1V432.8" fill="none" stroke="#231f20" stroke-width="0.9"/>
<text x="254.8" y="428.86" font-size="6.3" text-anchor="middle" fill="#231f20" stroke="#231f20" stroke-width="0.12">0.003</text>
<text x="254.4" y="466.02" font-size="6.2" text-anchor="middle" fill="#231f20" stroke="#231f20" stroke-width="0.12">pSTAT3</text>
<rect x="269.6" y="449.25" width="7.6" height="5.25" fill="#c3c3c6"/>
<circle cx="275.46" cy="450.56" r="0.95" fill="#9c9ca2"/>
<circle cx="275.73" cy="449.25" r="0.95" fill="#9c9ca2"/>
<circle cx="273.79" cy="447.94" r="0.95" fill="#9c9ca2"/>
<circle cx="274.29" cy="449.91" r="0.95" fill="#9c9ca2"/>
<circle cx="275.38" cy="448.6" r="0.95" fill="#9c9ca2"/>
<line x1="273.4" y1="450.3" x2="273.4" y2="448.2" stroke="#9c9ca2" stroke-width="0.8"/>
<line x1="271.6" y1="448.2" x2="275.2" y2="448.2" stroke="#9c9ca2" stroke-width="0.8"/>
<rect x="283.1" y="443.35" width="7.5" height="11.15" fill="#95a2cf"/>
<circle cx="287.08" cy="446.63" r="0.95" fill="#1d3c78"/>
<circle cx="284.99" cy="445.32" r="0.95" fill="#1d3c78"/>
<circle cx="286.96" cy="444.01" r="0.95" fill="#1d3c78"/>
<circle cx="287.01" cy="442.69" r="0.95" fill="#1d3c78"/>
<circle cx="285.18" cy="440.07" r="0.95" fill="#1d3c78"/>
<circle cx="284.73" cy="438.76" r="0.95" fill="#1d3c78"/>
<line x1="286.85" y1="445.32" x2="286.85" y2="441.38" stroke="#1d3c78" stroke-width="0.8"/>
<line x1="285.05" y1="441.38" x2="288.65" y2="441.38" stroke="#1d3c78" stroke-width="0.8"/>
<path d="M272.3 431.2V428.8H289.8V431.2" fill="none" stroke="#231f20" stroke-width="0.9"/>
<text x="281.05" y="426.96" font-size="6.3" text-anchor="middle" fill="#231f20" stroke="#231f20" stroke-width="0.12">0.0002</text>
<text x="280.1" y="466.02" font-size="6.2" text-anchor="middle" fill="#231f20" stroke="#231f20" stroke-width="0.12">pSTAT5</text>
<rect x="296" y="442.69" width="7.3" height="11.81" fill="#c3c3c6"/>
<circle cx="298.01" cy="446.63" r="0.95" fill="#9c9ca2"/>
<circle cx="300.68" cy="444.01" r="0.95" fill="#9c9ca2"/>
<circle cx="301.27" cy="442.69" r="0.95" fill="#9c9ca2"/>
<circle cx="300.46" cy="441.38" r="0.95" fill="#9c9ca2"/>
<circle cx="299.27" cy="438.76" r="0.95" fill="#9c9ca2"/>
<circle cx="297.2" cy="436.14" r="0.95" fill="#9c9ca2"/>
<circle cx="297.07" cy="449.25" r="0.95" fill="#9c9ca2"/>
<line x1="299.65" y1="444.66" x2="299.65" y2="440.73" stroke="#9c9ca2" stroke-width="0.8"/>
<line x1="297.85" y1="440.73" x2="301.45" y2="440.73" stroke="#9c9ca2" stroke-width="0.8"/>
<rect x="308.7" y="443.35" width="8" height="11.15" fill="#95a2cf"/>
<circle cx="313.51" cy="446.63" r="0.95" fill="#1d3c78"/>
<circle cx="312.85" cy="444.01" r="0.95" fill="#1d3c78"/>
<circle cx="312.47" cy="442.69" r="0.95" fill="#1d3c78"/>
<circle cx="310.99" cy="441.38" r="0.95" fill="#1d3c78"/>
<circle cx="310.74" cy="440.07" r="0.95" fill="#1d3c78"/>
<line x1="312.7" y1="445.32" x2="312.7" y2="441.38" stroke="#1d3c78" stroke-width="0.8"/>
<line x1="310.9" y1="441.38" x2="314.5" y2="441.38" stroke="#1d3c78" stroke-width="0.8"/>
<path d="M299.8 431.2V428.8H312.7V431.2" fill="none" stroke="#231f20" stroke-width="0.9"/>
<text x="306.25" y="427.46" font-size="6.3" text-anchor="middle" fill="#231f20" stroke="#231f20" stroke-width="0.12">ns</text>
<text x="306.35" y="466.02" font-size="6.2" text-anchor="middle" fill="#231f20" stroke="#231f20" stroke-width="0.12">p38</text>
<rect x="321.3" y="449.91" width="7.6" height="4.59" fill="#c3c3c6"/>
<circle cx="323.44" cy="453.19" r="0.95" fill="#9c9ca2"/>
<circle cx="323.17" cy="451.88" r="0.95" fill="#9c9ca2"/>
<circle cx="325.62" cy="450.56" r="0.95" fill="#9c9ca2"/>
<circle cx="324.1" cy="446.63" r="0.95" fill="#9c9ca2"/>
<circle cx="325.39" cy="435.48" r="0.95" fill="#9c9ca2"/>
<circle cx="324.73" cy="449.25" r="0.95" fill="#9c9ca2"/>
<line x1="325.1" y1="451.88" x2="325.1" y2="447.94" stroke="#9c9ca2" stroke-width="0.8"/>
<line x1="323.3" y1="447.94" x2="326.9" y2="447.94" stroke="#9c9ca2" stroke-width="0.8"/>
<rect x="334.8" y="410.56" width="8.1" height="43.94" fill="#95a2cf"/>
<circle cx="339.1" cy="390.23" r="0.95" fill="#1d3c78"/>
<circle cx="340.12" cy="391.54" r="0.95" fill="#1d3c78"/>
<circle cx="340.31" cy="405.97" r="0.95" fill="#1d3c78"/>
<circle cx="337.03" cy="425.64" r="0.95" fill="#1d3c78"/>
<circle cx="341.24" cy="449.25" r="0.95" fill="#1d3c78"/>
<line x1="338.85" y1="419.74" x2="338.85" y2="401.38" stroke="#1d3c78" stroke-width="0.8"/>
<line x1="337.05" y1="401.38" x2="340.65" y2="401.38" stroke="#1d3c78" stroke-width="0.8"/>
<path d="M324.8 385.7V383.3H338.8V385.7" fill="none" stroke="#231f20" stroke-width="0.9"/>
<text x="331.8" y="381.36" font-size="6.3" text-anchor="middle" fill="#231f20" stroke="#231f20" stroke-width="0.12">0.001</text>
<text x="332.1" y="466.02" font-size="6.2" text-anchor="middle" fill="#231f20" stroke="#231f20" stroke-width="0.12">pERK</text>
<line x1="213.7" y1="374.3" x2="213.7" y2="454.5" stroke="#231f20" stroke-width="1.1"/>
<line x1="210.5" y1="454.5" x2="213.7" y2="454.5" stroke="#231f20" stroke-width="0.9"/>
<text x="208.3" y="457.16" font-size="6.6" text-anchor="end" fill="#231f20" stroke="#231f20" stroke-width="0.12">0</text>
<line x1="210.5" y1="428.27" x2="213.7" y2="428.27" stroke="#231f20" stroke-width="0.9"/>
<text x="208.3" y="430.93" font-size="6.6" text-anchor="end" fill="#231f20" stroke="#231f20" stroke-width="0.12">20</text>
<line x1="210.5" y1="402.03" x2="213.7" y2="402.03" stroke="#231f20" stroke-width="0.9"/>
<text x="208.3" y="404.7" font-size="6.6" text-anchor="end" fill="#231f20" stroke="#231f20" stroke-width="0.12">40</text>
<line x1="210.5" y1="375.8" x2="213.7" y2="375.8" stroke="#231f20" stroke-width="0.9"/>
<text x="208.3" y="378.46" font-size="6.6" text-anchor="end" fill="#231f20" stroke="#231f20" stroke-width="0.12">60</text>
<line x1="213.7" y1="454.5" x2="349.6" y2="454.5" stroke="#231f20" stroke-width="1.1"/>
<line x1="229" y1="454.5" x2="229" y2="456.7" stroke="#231f20" stroke-width="0.9"/>
<line x1="254.4" y1="454.5" x2="254.4" y2="456.7" stroke="#231f20" stroke-width="0.9"/>
<line x1="280.1" y1="454.5" x2="280.1" y2="456.7" stroke="#231f20" stroke-width="0.9"/>
<line x1="306.35" y1="454.5" x2="306.35" y2="456.7" stroke="#231f20" stroke-width="0.9"/>
<line x1="332.1" y1="454.5" x2="332.1" y2="456.7" stroke="#231f20" stroke-width="0.9"/>
<text x="365.4" y="362.72" font-size="11.5" text-anchor="start" fill="#000" font-weight="bold">F</text>
<text x="451.8" y="360.4" font-size="8.1" text-anchor="middle" fill="#141414" stroke="#141414" stroke-width="0.2">CD14+ CD16+ cells</text>
<text x="367.9" y="417.03" font-size="7.9" text-anchor="middle" fill="#231f20" textLength="34" lengthAdjust="spacingAndGlyphs" stroke="#231f20" stroke-width="0.3" transform="rotate(-90 367.9 414.2)">Baseline MMI</text>
<rect x="394" y="445.06" width="7.5" height="9.94" fill="#c3c3c6"/>
<circle cx="398.36" cy="449.7" r="0.95" fill="#9c9ca2"/>
<circle cx="399.78" cy="447.05" r="0.95" fill="#9c9ca2"/>
<circle cx="397.52" cy="444.4" r="0.95" fill="#9c9ca2"/>
<circle cx="398.85" cy="441.75" r="0.95" fill="#9c9ca2"/>
<circle cx="400.02" cy="439.1" r="0.95" fill="#9c9ca2"/>
<circle cx="397.86" cy="436.45" r="0.95" fill="#9c9ca2"/>
<circle cx="398.97" cy="448.38" r="0.95" fill="#9c9ca2"/>
<line x1="397.75" y1="447.05" x2="397.75" y2="443.07" stroke="#9c9ca2" stroke-width="0.8"/>
<line x1="395.95" y1="443.07" x2="399.55" y2="443.07" stroke="#9c9ca2" stroke-width="0.8"/>
<rect x="406.4" y="425.85" width="7.3" height="29.15" fill="#95a2cf"/>
<circle cx="411.24" cy="433.8" r="0.95" fill="#1d3c78"/>
<circle cx="411.91" cy="431.15" r="0.95" fill="#1d3c78"/>
<circle cx="407.64" cy="425.85" r="0.95" fill="#1d3c78"/>
<circle cx="408.33" cy="420.55" r="0.95" fill="#1d3c78"/>
<circle cx="412.63" cy="398.02" r="0.95" fill="#1d3c78"/>
<line x1="410.05" y1="432.48" x2="410.05" y2="419.23" stroke="#1d3c78" stroke-width="0.8"/>
<line x1="408.25" y1="419.23" x2="411.85" y2="419.23" stroke="#1d3c78" stroke-width="0.8"/>
<path d="M396.7 394.3V391.9H410.2V394.3" fill="none" stroke="#231f20" stroke-width="0.9"/>
<text x="403.45" y="389.86" font-size="6.3" text-anchor="middle" fill="#231f20" stroke="#231f20" stroke-width="0.12">0.0005</text>
<text x="403.85" y="466.02" font-size="6.2" text-anchor="middle" fill="#231f20" stroke="#231f20" stroke-width="0.12">pSTAT1</text>
<rect x="418.2" y="453.01" width="7" height="1.99" fill="#c3c3c6"/>
<circle cx="422.98" cy="453.68" r="0.95" fill="#9c9ca2"/>
<circle cx="420.46" cy="452.35" r="0.95" fill="#9c9ca2"/>
<circle cx="422.96" cy="451.02" r="0.95" fill="#9c9ca2"/>
<circle cx="419.98" cy="453.01" r="0.95" fill="#9c9ca2"/>
<line x1="421.7" y1="453.41" x2="421.7" y2="452.62" stroke="#9c9ca2" stroke-width="0.8"/>
<line x1="419.9" y1="452.62" x2="423.5" y2="452.62" stroke="#9c9ca2" stroke-width="0.8"/>
<rect x="429.8" y="445.06" width="7.3" height="9.94" fill="#95a2cf"/>
<circle cx="432.72" cy="449.7" r="0.95" fill="#1d3c78"/>
<circle cx="433.14" cy="447.05" r="0.95" fill="#1d3c78"/>
<circle cx="432.04" cy="444.4" r="0.95" fill="#1d3c78"/>
<circle cx="431.57" cy="443.07" r="0.95" fill="#1d3c78"/>
<circle cx="433.49" cy="437.77" r="0.95" fill="#1d3c78"/>
<line x1="433.45" y1="447.05" x2="433.45" y2="443.07" stroke="#1d3c78" stroke-width="0.8"/>
<line x1="431.65" y1="443.07" x2="435.25" y2="443.07" stroke="#1d3c78" stroke-width="0.8"/>
<path d="M420.9 433.4V431H433.9V433.4" fill="none" stroke="#231f20" stroke-width="0.9"/>
<text x="427.4" y="429.46" font-size="6.3" text-anchor="middle" fill="#231f20" stroke="#231f20" stroke-width="0.12">0.001</text>
<text x="427.65" y="466.02" font-size="6.2" text-anchor="middle" fill="#231f20" stroke="#231f20" stroke-width="0.12">pSTAT3</text>
<rect x="441.9" y="449.44" width="7.6" height="5.56" fill="#c3c3c6"/>
<circle cx="446.46" cy="450.36" r="0.95" fill="#9c9ca2"/>
<circle cx="444.75" cy="449.7" r="0.95" fill="#9c9ca2"/>
<circle cx="446.53" cy="449.04" r="0.95" fill="#9c9ca2"/>
<circle cx="448.21" cy="448.38" r="0.95" fill="#9c9ca2"/>
<line x1="445.7" y1="449.96" x2="445.7" y2="448.9" stroke="#9c9ca2" stroke-width="0.8"/>
<line x1="443.9" y1="448.9" x2="447.5" y2="448.9" stroke="#9c9ca2" stroke-width="0.8"/>
<rect x="454" y="441.09" width="7.3" height="13.91" fill="#95a2cf"/>
<circle cx="455.34" cy="445.73" r="0.95" fill="#1d3c78"/>
<circle cx="456.5" cy="443.07" r="0.95" fill="#1d3c78"/>
<circle cx="455.52" cy="441.75" r="0.95" fill="#1d3c78"/>
<circle cx="458.57" cy="439.1" r="0.95" fill="#1d3c78"/>
<circle cx="457.2" cy="433.8" r="0.95" fill="#1d3c78"/>
<circle cx="457.34" cy="429.82" r="0.95" fill="#1d3c78"/>
<line x1="457.65" y1="443.74" x2="457.65" y2="438.44" stroke="#1d3c78" stroke-width="0.8"/>
<line x1="455.85" y1="438.44" x2="459.45" y2="438.44" stroke="#1d3c78" stroke-width="0.8"/>
<path d="M444.6 427.2V424.8H458.1V427.2" fill="none" stroke="#231f20" stroke-width="0.9"/>
<text x="451.35" y="422.96" font-size="6.3" text-anchor="middle" fill="#231f20" stroke="#231f20" stroke-width="0.12">0.0002</text>
<text x="451.6" y="466.02" font-size="6.2" text-anchor="middle" fill="#231f20" stroke="#231f20" stroke-width="0.12">pSTAT5</text>
<rect x="465.6" y="450.36" width="7.3" height="4.64" fill="#c3c3c6"/>
<circle cx="467.94" cy="452.35" r="0.95" fill="#9c9ca2"/>
<circle cx="470.69" cy="449.7" r="0.95" fill="#9c9ca2"/>
<circle cx="470.6" cy="447.05" r="0.95" fill="#9c9ca2"/>
<circle cx="468.98" cy="444.4" r="0.95" fill="#9c9ca2"/>
<circle cx="470.94" cy="440.43" r="0.95" fill="#9c9ca2"/>
<circle cx="467.85" cy="451.02" r="0.95" fill="#9c9ca2"/>
<line x1="469.25" y1="451.69" x2="469.25" y2="449.04" stroke="#9c9ca2" stroke-width="0.8"/>
<line x1="467.45" y1="449.04" x2="471.05" y2="449.04" stroke="#9c9ca2" stroke-width="0.8"/>
<rect x="477.5" y="445.06" width="7.5" height="9.94" fill="#95a2cf"/>
<circle cx="480.44" cy="448.38" r="0.95" fill="#1d3c78"/>
<circle cx="483.63" cy="445.73" r="0.95" fill="#1d3c78"/>
<circle cx="479.84" cy="444.4" r="0.95" fill="#1d3c78"/>
<circle cx="479.4" cy="443.07" r="0.95" fill="#1d3c78"/>
<circle cx="478.82" cy="440.43" r="0.95" fill="#1d3c78"/>
<line x1="481.25" y1="446.65" x2="481.25" y2="443.47" stroke="#1d3c78" stroke-width="0.8"/>
<line x1="479.45" y1="443.47" x2="483.05" y2="443.47" stroke="#1d3c78" stroke-width="0.8"/>
<path d="M469.4 436.1V433.7H481.8V436.1" fill="none" stroke="#231f20" stroke-width="0.9"/>
<text x="475.6" y="431.86" font-size="6.3" text-anchor="middle" fill="#231f20" stroke="#231f20" stroke-width="0.12">ns</text>
<text x="475.3" y="466.02" font-size="6.2" text-anchor="middle" fill="#231f20" stroke="#231f20" stroke-width="0.12">p38</text>
<rect x="489" y="451.69" width="7.3" height="3.31" fill="#c3c3c6"/>
<circle cx="493.55" cy="453.68" r="0.95" fill="#9c9ca2"/>
<circle cx="494.32" cy="452.35" r="0.95" fill="#9c9ca2"/>
<circle cx="490.32" cy="451.02" r="0.95" fill="#9c9ca2"/>
<circle cx="492.54" cy="435.12" r="0.95" fill="#9c9ca2"/>
<circle cx="492.11" cy="449.7" r="0.95" fill="#9c9ca2"/>
<line x1="492.65" y1="453.28" x2="492.65" y2="450.1" stroke="#9c9ca2" stroke-width="0.8"/>
<line x1="490.85" y1="450.1" x2="494.45" y2="450.1" stroke="#9c9ca2" stroke-width="0.8"/>
<rect x="501.2" y="409.95" width="7.5" height="45.05" fill="#95a2cf"/>
<circle cx="504.05" cy="384.77" r="0.95" fill="#1d3c78"/>
<circle cx="503.57" cy="400.68" r="0.95" fill="#1d3c78"/>
<circle cx="504.35" cy="400.68" r="0.95" fill="#1d3c78"/>
<circle cx="503.08" cy="415.25" r="0.95" fill="#1d3c78"/>
<circle cx="507.14" cy="447.05" r="0.95" fill="#1d3c78"/>
<line x1="504.95" y1="419.23" x2="504.95" y2="400.68" stroke="#1d3c78" stroke-width="0.8"/>
<line x1="503.15" y1="400.68" x2="506.75" y2="400.68" stroke="#1d3c78" stroke-width="0.8"/>
<path d="M491.7 380.9V378.5H504.4V380.9" fill="none" stroke="#231f20" stroke-width="0.9"/>
<text x="498.05" y="376.56" font-size="6.3" text-anchor="middle" fill="#231f20" stroke="#231f20" stroke-width="0.12">0.001</text>
<text x="498.85" y="466.02" font-size="6.2" text-anchor="middle" fill="#231f20" stroke="#231f20" stroke-width="0.12">pERK</text>
<line x1="389.5" y1="374" x2="389.5" y2="455" stroke="#231f20" stroke-width="1.1"/>
<line x1="386.3" y1="455" x2="389.5" y2="455" stroke="#231f20" stroke-width="0.9"/>
<text x="384.1" y="457.66" font-size="6.6" text-anchor="end" fill="#231f20" stroke="#231f20" stroke-width="0.12">0</text>
<line x1="386.3" y1="428.5" x2="389.5" y2="428.5" stroke="#231f20" stroke-width="0.9"/>
<text x="384.1" y="431.16" font-size="6.6" text-anchor="end" fill="#231f20" stroke="#231f20" stroke-width="0.12">20</text>
<line x1="386.3" y1="402" x2="389.5" y2="402" stroke="#231f20" stroke-width="0.9"/>
<text x="384.1" y="404.66" font-size="6.6" text-anchor="end" fill="#231f20" stroke="#231f20" stroke-width="0.12">40</text>
<line x1="386.3" y1="375.5" x2="389.5" y2="375.5" stroke="#231f20" stroke-width="0.9"/>
<text x="384.1" y="378.16" font-size="6.6" text-anchor="end" fill="#231f20" stroke="#231f20" stroke-width="0.12">60</text>
<line x1="389.5" y1="455" x2="513.5" y2="455" stroke="#231f20" stroke-width="1.1"/>
<line x1="403.85" y1="455" x2="403.85" y2="457.2" stroke="#231f20" stroke-width="0.9"/>
<line x1="427.65" y1="455" x2="427.65" y2="457.2" stroke="#231f20" stroke-width="0.9"/>
<line x1="451.6" y1="455" x2="451.6" y2="457.2" stroke="#231f20" stroke-width="0.9"/>
<line x1="475.3" y1="455" x2="475.3" y2="457.2" stroke="#231f20" stroke-width="0.9"/>
<line x1="498.85" y1="455" x2="498.85" y2="457.2" stroke="#231f20" stroke-width="0.9"/>
<rect x="260.1" y="472.9" width="5.8" height="5.2" fill="#c3c3c6"/>
<text x="268.3" y="477.79" font-size="6.4" text-anchor="start" fill="#231f20" stroke="#231f20" stroke-width="0.12">HC</text>
<rect x="284.2" y="472.9" width="5.8" height="5.2" fill="#8c96c2"/>
<text x="293.1" y="477.79" font-size="6.4" text-anchor="start" fill="#231f20" stroke="#231f20" stroke-width="0.12">MM</text>
<text x="152.6" y="504.32" font-size="11.5" text-anchor="start" fill="#000" font-weight="bold">G</text>
<line x1="193.3" y1="497.2" x2="193.3" y2="589.5" stroke="#231f20" stroke-width="1.1"/>
<line x1="190.3" y1="589.5" x2="193.3" y2="589.5" stroke="#231f20" stroke-width="0.9"/>
<text x="187.7" y="592.13" font-size="6.5" text-anchor="end" fill="#231f20" stroke="#231f20" stroke-width="0.12">0</text>
<line x1="190.3" y1="571.6" x2="193.3" y2="571.6" stroke="#231f20" stroke-width="0.9"/>
<text x="187.7" y="574.23" font-size="6.5" text-anchor="end" fill="#231f20" stroke="#231f20" stroke-width="0.12">20</text>
<line x1="190.3" y1="553.7" x2="193.3" y2="553.7" stroke="#231f20" stroke-width="0.9"/>
<text x="187.7" y="556.33" font-size="6.5" text-anchor="end" fill="#231f20" stroke="#231f20" stroke-width="0.12">40</text>
<line x1="190.3" y1="535.8" x2="193.3" y2="535.8" stroke="#231f20" stroke-width="0.9"/>
<text x="187.7" y="538.43" font-size="6.5" text-anchor="end" fill="#231f20" stroke="#231f20" stroke-width="0.12">60</text>
<line x1="190.3" y1="517.9" x2="193.3" y2="517.9" stroke="#231f20" stroke-width="0.9"/>
<text x="187.7" y="520.53" font-size="6.5" text-anchor="end" fill="#231f20" stroke="#231f20" stroke-width="0.12">80</text>
<line x1="190.3" y1="500" x2="193.3" y2="500" stroke="#231f20" stroke-width="0.9"/>
<text x="187.7" y="502.63" font-size="6.5" text-anchor="end" fill="#231f20" stroke="#231f20" stroke-width="0.12">100</text>
<line x1="193.3" y1="589.5" x2="253.3" y2="589.5" stroke="#231f20" stroke-width="1.1"/>
<line x1="210.8" y1="589.5" x2="210.8" y2="592.1" stroke="#231f20" stroke-width="0.9"/>
<line x1="236.5" y1="589.5" x2="236.5" y2="592.1" stroke="#231f20" stroke-width="0.9"/>
<text x="210.8" y="601.46" font-size="6.6" text-anchor="middle" fill="#231f20" stroke="#231f20" stroke-width="0.12">RBD+</text>
<text x="236.5" y="601.46" font-size="6.6" text-anchor="middle" fill="#231f20" stroke="#231f20" stroke-width="0.12">RBD−</text>
<text x="169.5" y="546.08" font-size="8.6" text-anchor="middle" fill="#231f20" textLength="41" lengthAdjust="spacingAndGlyphs" stroke="#231f20" stroke-width="0.28" transform="rotate(-90 169.5 543)">Chronologic age</text>
<path d="M212 504.6V502H236.3V504.6" fill="none" stroke="#231f20" stroke-width="0.9"/>
<text x="224.15" y="499.66" font-size="6.6" text-anchor="middle" fill="#231f20" stroke="#231f20" stroke-width="0.12">ns</text>
<circle cx="210.22" cy="519.81" r="0.72" fill="#d4891f" fill-opacity="0.95"/>
<circle cx="212.03" cy="519.32" r="0.72" fill="#d4891f" fill-opacity="0.95"/>
<circle cx="209.08" cy="521.11" r="0.72" fill="#d4891f" fill-opacity="0.95"/>
<circle cx="211.09" cy="521.08" r="0.72" fill="#d4891f" fill-opacity="0.95"/>
<circle cx="212.9" cy="521.38" r="0.72" fill="#d4891f" fill-opacity="0.95"/>
<circle cx="208.28" cy="523.13" r="0.72" fill="#d4891f" fill-opacity="0.95"/>
<circle cx="209.96" cy="522.93" r="0.72" fill="#d4891f" fill-opacity="0.95"/>
<circle cx="211.82" cy="523.23" r="0.72" fill="#d4891f" fill-opacity="0.95"/>
<circle cx="214.11" cy="522.79" r="0.72" fill="#d4891f" fill-opacity="0.95"/>
<circle cx="206.81" cy="525.23" r="0.72" fill="#d4891f" fill-opacity="0.95"/>
<circle cx="209.24" cy="525.01" r="0.72" fill="#d4891f" fill-opacity="0.95"/>
<circle cx="211.35" cy="524.43" r="0.72" fill="#d4891f" fill-opacity="0.95"/>
<circle cx="213.56" cy="524.51" r="0.72" fill="#d4891f" fill-opacity="0.95"/>
<circle cx="215.29" cy="524.38" r="0.72" fill="#d4891f" fill-opacity="0.95"/>
<circle cx="207.89" cy="526.01" r="0.72" fill="#d4891f" fill-opacity="0.95"/>
<circle cx="210.01" cy="526.85" r="0.72" fill="#d4891f" fill-opacity="0.95"/>
<circle cx="212.85" cy="526.42" r="0.72" fill="#d4891f" fill-opacity="0.95"/>
<circle cx="213.88" cy="526.35" r="0.72" fill="#d4891f" fill-opacity="0.95"/>
<circle cx="207.71" cy="528.37" r="0.72" fill="#d4891f" fill-opacity="0.95"/>
<circle cx="210.29" cy="527.78" r="0.72" fill="#d4891f" fill-opacity="0.95"/>
<circle cx="212.24" cy="528.17" r="0.72" fill="#d4891f" fill-opacity="0.95"/>
<circle cx="214.23" cy="527.88" r="0.72" fill="#d4891f" fill-opacity="0.95"/>
<circle cx="205.47" cy="530.19" r="0.72" fill="#d4891f" fill-opacity="0.95"/>
<circle cx="208.23" cy="530.13" r="0.72" fill="#d4891f" fill-opacity="0.95"/>
<circle cx="210.04" cy="530.46" r="0.72" fill="#d4891f" fill-opacity="0.95"/>
<circle cx="212.09" cy="529.7" r="0.72" fill="#d4891f" fill-opacity="0.95"/>
<circle cx="214.2" cy="530.41" r="0.72" fill="#d4891f" fill-opacity="0.95"/>
<circle cx="216.04" cy="530.26" r="0.72" fill="#d4891f" fill-opacity="0.95"/>
<circle cx="207.42" cy="531.72" r="0.72" fill="#d4891f" fill-opacity="0.95"/>
<circle cx="209.04" cy="532.12" r="0.72" fill="#d4891f" fill-opacity="0.95"/>
<circle cx="211.45" cy="532.06" r="0.72" fill="#d4891f" fill-opacity="0.95"/>
<circle cx="212.91" cy="531.86" r="0.72" fill="#d4891f" fill-opacity="0.95"/>
<circle cx="215.69" cy="531.49" r="0.72" fill="#d4891f" fill-opacity="0.95"/>
<circle cx="208.46" cy="533.57" r="0.72" fill="#d4891f" fill-opacity="0.95"/>
<circle cx="210.04" cy="533.49" r="0.72" fill="#d4891f" fill-opacity="0.95"/>
<circle cx="211.96" cy="533.25" r="0.72" fill="#d4891f" fill-opacity="0.95"/>
<circle cx="213.88" cy="533.4" r="0.72" fill="#d4891f" fill-opacity="0.95"/>
<circle cx="208.53" cy="535.71" r="0.72" fill="#d4891f" fill-opacity="0.95"/>
<circle cx="210.26" cy="534.84" r="0.72" fill="#d4891f" fill-opacity="0.95"/>
<circle cx="212.37" cy="534.91" r="0.72" fill="#d4891f" fill-opacity="0.95"/>
<circle cx="214.2" cy="534.88" r="0.72" fill="#d4891f" fill-opacity="0.95"/>
<circle cx="207.54" cy="536.78" r="0.72" fill="#d4891f" fill-opacity="0.95"/>
<circle cx="209.83" cy="536.97" r="0.72" fill="#d4891f" fill-opacity="0.95"/>
<circle cx="212.77" cy="537.08" r="0.72" fill="#d4891f" fill-opacity="0.95"/>
<circle cx="214.69" cy="537.23" r="0.72" fill="#d4891f" fill-opacity="0.95"/>
<circle cx="207.53" cy="538.31" r="0.72" fill="#d4891f" fill-opacity="0.95"/>
<circle cx="209.71" cy="538.77" r="0.72" fill="#d4891f" fill-opacity="0.95"/>
<circle cx="212.06" cy="539.18" r="0.72" fill="#d4891f" fill-opacity="0.95"/>
<circle cx="213.99" cy="538.38" r="0.72" fill="#d4891f" fill-opacity="0.95"/>
<circle cx="209.23" cy="540.05" r="0.72" fill="#d4891f" fill-opacity="0.95"/>
<circle cx="211.01" cy="540.44" r="0.72" fill="#d4891f" fill-opacity="0.95"/>
<circle cx="213.69" cy="540.78" r="0.72" fill="#d4891f" fill-opacity="0.95"/>
<circle cx="209.14" cy="542.69" r="0.72" fill="#d4891f" fill-opacity="0.95"/>
<circle cx="211.16" cy="542.04" r="0.72" fill="#d4891f" fill-opacity="0.95"/>
<circle cx="212.87" cy="542.58" r="0.72" fill="#d4891f" fill-opacity="0.95"/>
<circle cx="209.24" cy="544.48" r="0.72" fill="#d4891f" fill-opacity="0.95"/>
<circle cx="211.36" cy="543.81" r="0.72" fill="#d4891f" fill-opacity="0.95"/>
<circle cx="213.53" cy="544.43" r="0.72" fill="#d4891f" fill-opacity="0.95"/>
<circle cx="211.73" cy="545.67" r="0.72" fill="#d4891f" fill-opacity="0.95"/>
<circle cx="211.21" cy="547.78" r="0.72" fill="#d4891f" fill-opacity="0.95"/>
<circle cx="209.87" cy="549.52" r="0.72" fill="#d4891f" fill-opacity="0.95"/>
<circle cx="211.77" cy="549.42" r="0.72" fill="#d4891f" fill-opacity="0.95"/>
<circle cx="234.75" cy="517.86" r="0.8" fill="#3b2752"/>
<circle cx="237.95" cy="517.72" r="0.8" fill="#3b2752"/>
<circle cx="236.52" cy="519.88" r="0.8" fill="#3b2752"/>
<circle cx="236.41" cy="524.86" r="0.8" fill="#3b2752"/>
<circle cx="234.71" cy="526.75" r="0.8" fill="#3b2752"/>
<circle cx="237.72" cy="527.12" r="0.8" fill="#3b2752"/>
<circle cx="233.45" cy="528.37" r="0.8" fill="#3b2752"/>
<circle cx="236.55" cy="528.7" r="0.8" fill="#3b2752"/>
<circle cx="239.42" cy="528.51" r="0.8" fill="#3b2752"/>
<circle cx="233.22" cy="529.51" r="0.8" fill="#3b2752"/>
<circle cx="236.43" cy="529.63" r="0.8" fill="#3b2752"/>
<circle cx="239.24" cy="529.7" r="0.8" fill="#3b2752"/>
<circle cx="235.04" cy="531.61" r="0.8" fill="#3b2752"/>
<circle cx="237.98" cy="531.05" r="0.8" fill="#3b2752"/>
<circle cx="234.35" cy="533.79" r="0.8" fill="#3b2752"/>
<circle cx="238.21" cy="533.89" r="0.8" fill="#3b2752"/>
<circle cx="236.21" cy="536.04" r="0.8" fill="#3b2752"/>
<circle cx="234.57" cy="538.51" r="0.8" fill="#3b2752"/>
<circle cx="237.86" cy="538.22" r="0.8" fill="#3b2752"/>
<circle cx="236.36" cy="540.48" r="0.8" fill="#3b2752"/>
<line x1="202.5" y1="532.22" x2="219.9" y2="532.22" stroke="#5a4020" stroke-width="1.5"/>
<line x1="211.2" y1="533.12" x2="211.2" y2="531.33" stroke="#5a4020" stroke-width="0.8"/>
<line x1="208.7" y1="533.12" x2="213.7" y2="533.12" stroke="#5a4020" stroke-width="0.8"/>
<line x1="208.7" y1="531.33" x2="213.7" y2="531.33" stroke="#5a4020" stroke-width="0.8"/>
<line x1="227.9" y1="529.98" x2="244.7" y2="529.98" stroke="#3a3a3a" stroke-width="1.5"/>
<line x1="236.3" y1="531.77" x2="236.3" y2="528.19" stroke="#3a3a3a" stroke-width="0.8"/>
<line x1="233.8" y1="531.77" x2="238.8" y2="531.77" stroke="#3a3a3a" stroke-width="0.8"/>
<line x1="233.8" y1="528.19" x2="238.8" y2="528.19" stroke="#3a3a3a" stroke-width="0.8"/>
<line x1="306.3" y1="497.7" x2="306.3" y2="589.5" stroke="#231f20" stroke-width="1.1"/>
<line x1="303.3" y1="589.5" x2="306.3" y2="589.5" stroke="#231f20" stroke-width="0.9"/>
<text x="300.7" y="592.13" font-size="6.5" text-anchor="end" fill="#231f20" stroke="#231f20" stroke-width="0.12">0</text>
<line x1="303.3" y1="571.7" x2="306.3" y2="571.7" stroke="#231f20" stroke-width="0.9"/>
<text x="300.7" y="574.33" font-size="6.5" text-anchor="end" fill="#231f20" stroke="#231f20" stroke-width="0.12">20</text>
<line x1="303.3" y1="553.9" x2="306.3" y2="553.9" stroke="#231f20" stroke-width="0.9"/>
<text x="300.7" y="556.53" font-size="6.5" text-anchor="end" fill="#231f20" stroke="#231f20" stroke-width="0.12">40</text>
<line x1="303.3" y1="536.1" x2="306.3" y2="536.1" stroke="#231f20" stroke-width="0.9"/>
<text x="300.7" y="538.73" font-size="6.5" text-anchor="end" fill="#231f20" stroke="#231f20" stroke-width="0.12">60</text>
<line x1="303.3" y1="518.3" x2="306.3" y2="518.3" stroke="#231f20" stroke-width="0.9"/>
<text x="300.7" y="520.93" font-size="6.5" text-anchor="end" fill="#231f20" stroke="#231f20" stroke-width="0.12">80</text>
<line x1="303.3" y1="500.5" x2="306.3" y2="500.5" stroke="#231f20" stroke-width="0.9"/>
<text x="300.7" y="503.13" font-size="6.5" text-anchor="end" fill="#231f20" stroke="#231f20" stroke-width="0.12">100</text>
<line x1="306.3" y1="589.5" x2="366.5" y2="589.5" stroke="#231f20" stroke-width="1.1"/>
<line x1="323.3" y1="589.5" x2="323.3" y2="592.1" stroke="#231f20" stroke-width="0.9"/>
<line x1="348.7" y1="589.5" x2="348.7" y2="592.1" stroke="#231f20" stroke-width="0.9"/>
<text x="323.3" y="601.46" font-size="6.6" text-anchor="middle" fill="#231f20" stroke="#231f20" stroke-width="0.12">RBD+</text>
<text x="348.7" y="601.46" font-size="6.6" text-anchor="middle" fill="#231f20" stroke="#231f20" stroke-width="0.12">RBD−</text>
<text x="272.3" y="546.74" font-size="8.2" text-anchor="middle" fill="#231f20" textLength="43" lengthAdjust="spacingAndGlyphs" stroke="#231f20" stroke-width="0.28" transform="rotate(-90 272.3 543.8)">Aging-associated</text>
<text x="281.3" y="546.74" font-size="8.2" text-anchor="middle" fill="#231f20" textLength="36" lengthAdjust="spacingAndGlyphs" stroke="#231f20" stroke-width="0.28" transform="rotate(-90 281.3 543.8)">immune score</text>
<path d="M325.5 504.6V502H351.3V504.6" fill="none" stroke="#231f20" stroke-width="0.9"/>
<text x="338.4" y="499.23" font-size="6.8" text-anchor="middle" fill="#231f20" stroke="#231f20" stroke-width="0.12">0.001</text>
<circle cx="323.64" cy="517.41" r="0.72" fill="#d4891f" fill-opacity="0.95"/>
<circle cx="320.74" cy="520.15" r="0.72" fill="#d4891f" fill-opacity="0.95"/>
<circle cx="322.17" cy="519.35" r="0.72" fill="#d4891f" fill-opacity="0.95"/>
<circle cx="324.02" cy="519.34" r="0.72" fill="#d4891f" fill-opacity="0.95"/>
<circle cx="326.08" cy="519.84" r="0.72" fill="#d4891f" fill-opacity="0.95"/>
<circle cx="318.63" cy="521.66" r="0.72" fill="#d4891f" fill-opacity="0.95"/>
<circle cx="320.17" cy="521.07" r="0.72" fill="#d4891f" fill-opacity="0.95"/>
<circle cx="322.27" cy="520.93" r="0.72" fill="#d4891f" fill-opacity="0.95"/>
<circle cx="324.73" cy="521.09" r="0.72" fill="#d4891f" fill-opacity="0.95"/>
<circle cx="326.23" cy="521.79" r="0.72" fill="#d4891f" fill-opacity="0.95"/>
<circle cx="328.67" cy="521.85" r="0.72" fill="#d4891f" fill-opacity="0.95"/>
<circle cx="317.4" cy="522.9" r="0.72" fill="#d4891f" fill-opacity="0.95"/>
<circle cx="318.88" cy="522.9" r="0.72" fill="#d4891f" fill-opacity="0.95"/>
<circle cx="321.68" cy="523.16" r="0.72" fill="#d4891f" fill-opacity="0.95"/>
<circle cx="323.26" cy="522.67" r="0.72" fill="#d4891f" fill-opacity="0.95"/>
<circle cx="325.42" cy="523.04" r="0.72" fill="#d4891f" fill-opacity="0.95"/>
<circle cx="327.18" cy="522.9" r="0.72" fill="#d4891f" fill-opacity="0.95"/>
<circle cx="329.55" cy="523.07" r="0.72" fill="#d4891f" fill-opacity="0.95"/>
<circle cx="316.23" cy="525.25" r="0.72" fill="#d4891f" fill-opacity="0.95"/>
<circle cx="318" cy="524.49" r="0.72" fill="#d4891f" fill-opacity="0.95"/>
<circle cx="320.11" cy="524.62" r="0.72" fill="#d4891f" fill-opacity="0.95"/>
<circle cx="322.54" cy="524.88" r="0.72" fill="#d4891f" fill-opacity="0.95"/>
<circle cx="324.34" cy="524.49" r="0.72" fill="#d4891f" fill-opacity="0.95"/>
<circle cx="326.95" cy="525.02" r="0.72" fill="#d4891f" fill-opacity="0.95"/>
<circle cx="328.9" cy="525.1" r="0.72" fill="#d4891f" fill-opacity="0.95"/>
<circle cx="331.28" cy="524.44" r="0.72" fill="#d4891f" fill-opacity="0.95"/>
<circle cx="317.17" cy="526.85" r="0.72" fill="#d4891f" fill-opacity="0.95"/>
<circle cx="319.31" cy="526.66" r="0.72" fill="#d4891f" fill-opacity="0.95"/>
<circle cx="321.17" cy="526.39" r="0.72" fill="#d4891f" fill-opacity="0.95"/>
<circle cx="323.95" cy="527.13" r="0.72" fill="#d4891f" fill-opacity="0.95"/>
<circle cx="325.6" cy="526.62" r="0.72" fill="#d4891f" fill-opacity="0.95"/>
<circle cx="327.25" cy="526.75" r="0.72" fill="#d4891f" fill-opacity="0.95"/>
<circle cx="329.45" cy="526.78" r="0.72" fill="#d4891f" fill-opacity="0.95"/>
<circle cx="317.16" cy="528.77" r="0.72" fill="#d4891f" fill-opacity="0.95"/>
<circle cx="319.07" cy="528.43" r="0.72" fill="#d4891f" fill-opacity="0.95"/>
<circle cx="321.18" cy="528.39" r="0.72" fill="#d4891f" fill-opacity="0.95"/>
<circle cx="323.94" cy="528.39" r="0.72" fill="#d4891f" fill-opacity="0.95"/>
<circle cx="326.16" cy="528.31" r="0.72" fill="#d4891f" fill-opacity="0.95"/>
<circle cx="327.64" cy="528.54" r="0.72" fill="#d4891f" fill-opacity="0.95"/>
<circle cx="329.8" cy="528.57" r="0.72" fill="#d4891f" fill-opacity="0.95"/>
<circle cx="316.62" cy="530.07" r="0.72" fill="#d4891f" fill-opacity="0.95"/>
<circle cx="318.78" cy="529.9" r="0.72" fill="#d4891f" fill-opacity="0.95"/>
<circle cx="321.52" cy="530.34" r="0.72" fill="#d4891f" fill-opacity="0.95"/>
<circle cx="323.99" cy="530.33" r="0.72" fill="#d4891f" fill-opacity="0.95"/>
<circle cx="325.67" cy="529.99" r="0.72" fill="#d4891f" fill-opacity="0.95"/>
<circle cx="327.67" cy="529.94" r="0.72" fill="#d4891f" fill-opacity="0.95"/>
<circle cx="329.32" cy="530.18" r="0.72" fill="#d4891f" fill-opacity="0.95"/>
<circle cx="315.92" cy="532.14" r="0.72" fill="#d4891f" fill-opacity="0.95"/>
<circle cx="318.29" cy="531.71" r="0.72" fill="#d4891f" fill-opacity="0.95"/>
<circle cx="320.77" cy="531.42" r="0.72" fill="#d4891f" fill-opacity="0.95"/>
<circle cx="322.17" cy="531.72" r="0.72" fill="#d4891f" fill-opacity="0.95"/>
<circle cx="324.76" cy="531.65" r="0.72" fill="#d4891f" fill-opacity="0.95"/>
<circle cx="327.23" cy="531.51" r="0.72" fill="#d4891f" fill-opacity="0.95"/>
<circle cx="328.69" cy="531.87" r="0.72" fill="#d4891f" fill-opacity="0.95"/>
<circle cx="331.14" cy="531.65" r="0.72" fill="#d4891f" fill-opacity="0.95"/>
<circle cx="317.49" cy="533.94" r="0.72" fill="#d4891f" fill-opacity="0.95"/>
<circle cx="319.39" cy="534.05" r="0.72" fill="#d4891f" fill-opacity="0.95"/>
<circle cx="321.27" cy="533.6" r="0.72" fill="#d4891f" fill-opacity="0.95"/>
<circle cx="323.5" cy="533.28" r="0.72" fill="#d4891f" fill-opacity="0.95"/>
<circle cx="325.99" cy="533.21" r="0.72" fill="#d4891f" fill-opacity="0.95"/>
<circle cx="327.19" cy="534.06" r="0.72" fill="#d4891f" fill-opacity="0.95"/>
<circle cx="329.74" cy="533.3" r="0.72" fill="#d4891f" fill-opacity="0.95"/>
<circle cx="316.83" cy="535.35" r="0.72" fill="#d4891f" fill-opacity="0.95"/>
<circle cx="318.72" cy="535.04" r="0.72" fill="#d4891f" fill-opacity="0.95"/>
<circle cx="321.38" cy="535.6" r="0.72" fill="#d4891f" fill-opacity="0.95"/>
<circle cx="323.06" cy="535.66" r="0.72" fill="#d4891f" fill-opacity="0.95"/>
<circle cx="325.77" cy="535.57" r="0.72" fill="#d4891f" fill-opacity="0.95"/>
<circle cx="328.26" cy="535.38" r="0.72" fill="#d4891f" fill-opacity="0.95"/>
<circle cx="329.21" cy="534.96" r="0.72" fill="#d4891f" fill-opacity="0.95"/>
<circle cx="317.78" cy="536.92" r="0.72" fill="#d4891f" fill-opacity="0.95"/>
<circle cx="320.53" cy="537.39" r="0.72" fill="#d4891f" fill-opacity="0.95"/>
<circle cx="322.75" cy="537.21" r="0.72" fill="#d4891f" fill-opacity="0.95"/>
<circle cx="324.34" cy="537.55" r="0.72" fill="#d4891f" fill-opacity="0.95"/>
<circle cx="326.07" cy="536.91" r="0.72" fill="#d4891f" fill-opacity="0.95"/>
<circle cx="329.33" cy="536.84" r="0.72" fill="#d4891f" fill-opacity="0.95"/>
<circle cx="319.42" cy="539.03" r="0.72" fill="#d4891f" fill-opacity="0.95"/>
<circle cx="321.56" cy="538.85" r="0.72" fill="#d4891f" fill-opacity="0.95"/>
<circle cx="323.91" cy="538.46" r="0.72" fill="#d4891f" fill-opacity="0.95"/>
<circle cx="325.34" cy="539.17" r="0.72" fill="#d4891f" fill-opacity="0.95"/>
<circle cx="327.99" cy="539.04" r="0.72" fill="#d4891f" fill-opacity="0.95"/>
<circle cx="320.1" cy="540.75" r="0.72" fill="#d4891f" fill-opacity="0.95"/>
<circle cx="322.53" cy="540.96" r="0.72" fill="#d4891f" fill-opacity="0.95"/>
<circle cx="324.23" cy="540.43" r="0.72" fill="#d4891f" fill-opacity="0.95"/>
<circle cx="326.43" cy="540.36" r="0.72" fill="#d4891f" fill-opacity="0.95"/>
<circle cx="320.34" cy="541.97" r="0.72" fill="#d4891f" fill-opacity="0.95"/>
<circle cx="322.92" cy="542.42" r="0.72" fill="#d4891f" fill-opacity="0.95"/>
<circle cx="324.94" cy="542.64" r="0.72" fill="#d4891f" fill-opacity="0.95"/>
<circle cx="326.53" cy="542.22" r="0.72" fill="#d4891f" fill-opacity="0.95"/>
<circle cx="321.93" cy="544.45" r="0.72" fill="#d4891f" fill-opacity="0.95"/>
<circle cx="324.05" cy="544.22" r="0.72" fill="#d4891f" fill-opacity="0.95"/>
<circle cx="325.65" cy="543.95" r="0.72" fill="#d4891f" fill-opacity="0.95"/>
<circle cx="321.47" cy="546.16" r="0.72" fill="#d4891f" fill-opacity="0.95"/>
<circle cx="323.91" cy="546.3" r="0.72" fill="#d4891f" fill-opacity="0.95"/>
<circle cx="325.3" cy="546.05" r="0.72" fill="#d4891f" fill-opacity="0.95"/>
<circle cx="323.24" cy="547.75" r="0.72" fill="#d4891f" fill-opacity="0.95"/>
<circle cx="322.73" cy="570.92" r="0.7" fill="#d4891f"/>
<circle cx="324.63" cy="571.02" r="0.7" fill="#d4891f"/>
<circle cx="323.48" cy="578.66" r="0.7" fill="#d4891f"/>
<circle cx="348.98" cy="518.39" r="0.8" fill="#3b2752"/>
<circle cx="347.42" cy="520.76" r="0.8" fill="#3b2752"/>
<circle cx="350.36" cy="520.89" r="0.8" fill="#3b2752"/>
<circle cx="345.44" cy="522.94" r="0.8" fill="#3b2752"/>
<circle cx="349.13" cy="522.81" r="0.8" fill="#3b2752"/>
<circle cx="352.44" cy="522.85" r="0.8" fill="#3b2752"/>
<circle cx="347.05" cy="523.6" r="0.8" fill="#3b2752"/>
<circle cx="350.46" cy="523.88" r="0.8" fill="#3b2752"/>
<circle cx="343.59" cy="525.61" r="0.8" fill="#3b2752"/>
<circle cx="347" cy="525.53" r="0.8" fill="#3b2752"/>
<circle cx="350.59" cy="525.36" r="0.8" fill="#3b2752"/>
<circle cx="354.34" cy="525.13" r="0.8" fill="#3b2752"/>
<circle cx="345.29" cy="527.45" r="0.8" fill="#3b2752"/>
<circle cx="349.01" cy="526.95" r="0.8" fill="#3b2752"/>
<circle cx="352.74" cy="527.47" r="0.8" fill="#3b2752"/>
<circle cx="347.03" cy="528.04" r="0.8" fill="#3b2752"/>
<circle cx="350.44" cy="527.98" r="0.8" fill="#3b2752"/>
<circle cx="349.09" cy="584.4" r="0.8" fill="#3b2752"/>
<line x1="314.8" y1="532.54" x2="332.2" y2="532.54" stroke="#5a4020" stroke-width="1.5"/>
<line x1="323.5" y1="533.43" x2="323.5" y2="531.65" stroke="#5a4020" stroke-width="0.8"/>
<line x1="321" y1="533.43" x2="326" y2="533.43" stroke="#5a4020" stroke-width="0.8"/>
<line x1="321" y1="531.65" x2="326" y2="531.65" stroke="#5a4020" stroke-width="0.8"/>
<line x1="340.4" y1="528.09" x2="357.6" y2="528.09" stroke="#3a3a3a" stroke-width="1.5"/>
<line x1="349" y1="532.54" x2="349" y2="523.64" stroke="#3a3a3a" stroke-width="0.8"/>
<line x1="345.1" y1="532.54" x2="352.9" y2="532.54" stroke="#3a3a3a" stroke-width="0.8"/>
<line x1="345.1" y1="523.64" x2="352.9" y2="523.64" stroke="#3a3a3a" stroke-width="0.8"/>
<rect x="0.5" y="0.5" width="519" height="608" fill="none" stroke="#5a5a5a" stroke-width="1"/>
</svg></body></html>
